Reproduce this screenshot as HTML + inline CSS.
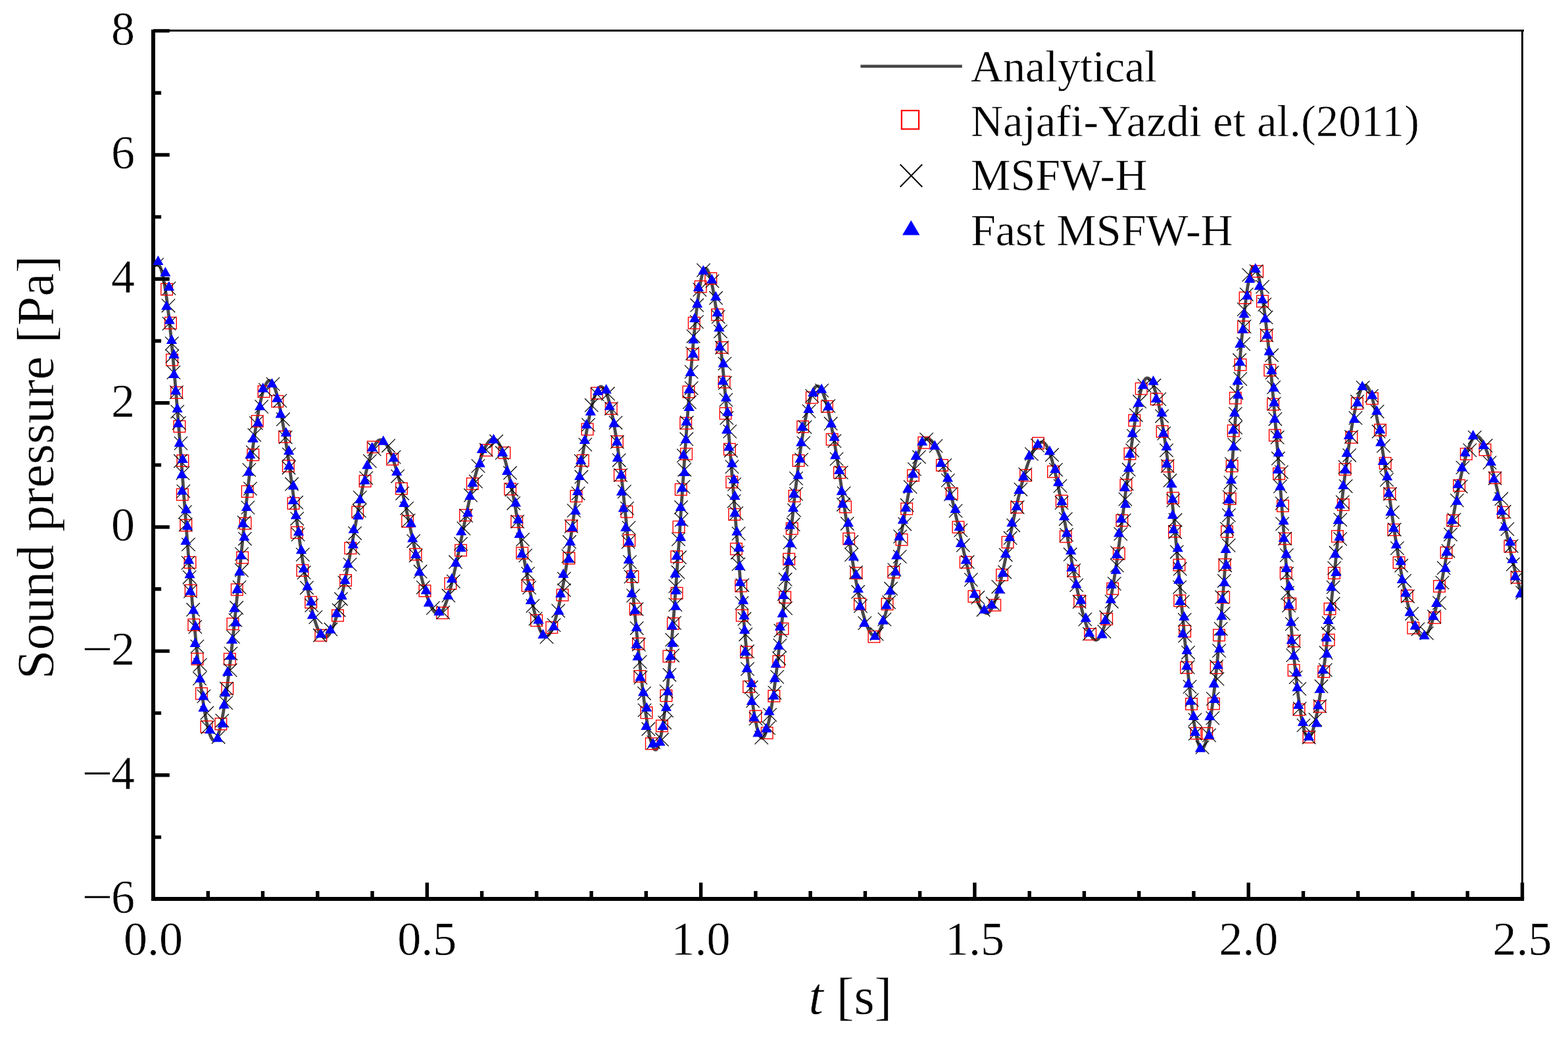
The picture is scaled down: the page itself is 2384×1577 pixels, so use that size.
<!DOCTYPE html>
<html lang="en">
<head>
<meta charset="utf-8">
<title>Sound pressure vs t</title>
<style>
html,body{margin:0;padding:0;background:#fff;}
body{width:2384px;height:1577px;overflow:hidden;font-family:"Liberation Serif", "DejaVu Serif", serif;}
svg{display:block;}
</style>
</head>
<body>
<svg width="2384" height="1577" viewBox="0 0 2384 1577" font-family='"Liberation Serif", "DejaVu Serif", serif' text-rendering="geometricPrecision">
<style>text{stroke:#fff;stroke-width:0.5px;stroke-linejoin:round}</style>
<rect width="2384" height="1577" fill="#fff"/>
<defs><clipPath id="pc"><rect x="233.0" y="46.5" width="2080.0" height="1320.5"/></clipPath></defs>
<g clip-path="url(#pc)">
<path d="M233.0 403.7 L234.7 403.5 L236.3 403.3 L238.0 403.1 L239.7 403.0 L241.3 403.3 L243.0 405.1 L244.7 408.8 L246.3 414.1 L248.0 421.1 L249.7 429.7 L251.3 439.6 L253.0 451.0 L254.6 463.7 L256.3 477.6 L258.0 492.6 L259.6 508.6 L261.3 525.7 L263.0 543.6 L264.6 562.4 L266.3 581.9 L268.0 602.0 L269.6 622.7 L271.3 643.9 L273.0 665.4 L274.6 687.3 L276.3 709.5 L278.0 731.8 L279.6 754.2 L281.3 776.6 L283.0 798.8 L284.6 820.9 L286.3 842.4 L288.0 863.3 L289.6 883.7 L291.3 903.5 L292.9 922.6 L294.6 941.1 L296.3 958.8 L297.9 975.9 L299.6 992.2 L301.3 1007.7 L302.9 1022.4 L304.6 1036.3 L306.3 1049.3 L307.9 1061.4 L309.6 1072.5 L311.3 1082.7 L312.9 1091.9 L314.6 1100.1 L316.3 1107.2 L317.9 1113.3 L319.6 1118.2 L321.3 1122.0 L322.9 1124.6 L324.6 1126.0 L326.3 1126.2 L327.9 1125.0 L329.6 1122.5 L331.2 1118.8 L332.9 1113.8 L334.6 1107.7 L336.2 1100.4 L337.9 1092.2 L339.6 1082.9 L341.2 1072.7 L342.9 1061.7 L344.6 1049.8 L346.2 1037.3 L347.9 1024.0 L349.6 1010.0 L351.2 995.6 L352.9 980.5 L354.6 965.1 L356.2 949.2 L357.9 933.0 L359.6 916.5 L361.2 899.7 L362.9 882.8 L364.6 865.8 L366.2 848.7 L367.9 831.6 L369.5 814.6 L371.2 797.7 L372.9 781.2 L374.5 765.1 L376.2 749.6 L377.9 734.5 L379.5 720.0 L381.2 706.1 L382.9 692.8 L384.5 680.0 L386.2 668.0 L387.9 656.5 L389.5 645.8 L391.2 635.8 L392.9 626.5 L394.5 617.9 L396.2 610.2 L397.9 603.2 L399.5 597.0 L401.2 591.7 L402.9 587.3 L404.5 583.8 L406.2 581.1 L407.8 579.4 L409.5 578.7 L411.2 579.0 L412.8 580.3 L414.5 582.6 L416.2 585.9 L417.8 590.1 L419.5 595.1 L421.2 601.0 L422.8 607.6 L424.5 615.0 L426.2 623.0 L427.8 631.6 L429.5 640.8 L431.2 650.5 L432.8 660.7 L434.5 671.4 L436.2 682.4 L437.8 693.7 L439.5 705.4 L441.1 717.2 L442.8 729.3 L444.5 741.5 L446.1 753.8 L447.8 766.1 L449.5 778.4 L451.1 790.7 L452.8 802.9 L454.5 814.8 L456.1 826.4 L457.8 837.6 L459.5 848.5 L461.1 859.0 L462.8 869.1 L464.5 878.8 L466.1 888.1 L467.8 897.0 L469.5 905.4 L471.1 913.4 L472.8 920.9 L474.5 927.9 L476.1 934.4 L477.8 940.4 L479.4 945.9 L481.1 950.8 L482.8 955.2 L484.4 959.0 L486.1 962.3 L487.8 965.0 L489.4 967.0 L491.1 968.4 L492.8 969.3 L494.4 969.4 L496.1 968.9 L497.8 967.8 L499.4 966.1 L501.1 963.8 L502.8 961.0 L504.4 957.6 L506.1 953.7 L507.8 949.3 L509.4 944.5 L511.1 939.2 L512.8 933.5 L514.4 927.3 L516.1 920.9 L517.7 914.0 L519.4 906.9 L521.1 899.4 L522.7 891.7 L524.4 883.7 L526.1 875.4 L527.7 867.0 L529.4 858.4 L531.1 849.6 L532.7 840.6 L534.4 831.5 L536.1 822.4 L537.7 813.2 L539.4 803.9 L541.1 794.6 L542.7 785.4 L544.4 776.4 L546.1 767.7 L547.7 759.1 L549.4 750.7 L551.1 742.6 L552.7 734.8 L554.4 727.3 L556.0 720.2 L557.7 713.4 L559.4 707.0 L561.0 701.0 L562.7 695.4 L564.4 690.3 L566.0 685.7 L567.7 681.6 L569.4 678.0 L571.0 675.0 L572.7 672.5 L574.4 670.7 L576.0 669.5 L577.7 669.0 L579.4 669.0 L581.0 669.6 L582.7 670.7 L584.4 672.2 L586.0 674.1 L587.7 676.5 L589.4 679.3 L591.0 682.5 L592.7 686.0 L594.3 689.9 L596.0 694.2 L597.7 698.8 L599.3 703.7 L601.0 708.9 L602.7 714.4 L604.3 720.2 L606.0 726.3 L607.7 732.5 L609.3 739.1 L611.0 745.8 L612.7 752.7 L614.3 759.8 L616.0 767.1 L617.7 774.5 L619.3 782.1 L621.0 789.7 L622.7 797.5 L624.3 805.4 L626.0 813.2 L627.7 821.0 L629.3 828.7 L631.0 836.4 L632.6 843.8 L634.3 851.2 L636.0 858.4 L637.6 865.4 L639.3 872.1 L641.0 878.7 L642.6 885.0 L644.3 891.0 L646.0 896.7 L647.6 902.1 L649.3 907.1 L651.0 911.8 L652.6 916.1 L654.3 920.0 L656.0 923.4 L657.6 926.4 L659.3 928.9 L661.0 931.0 L662.6 932.4 L664.3 933.4 L666.0 933.8 L667.6 933.5 L669.3 932.5 L670.9 930.9 L672.6 928.6 L674.3 925.6 L675.9 922.1 L677.6 918.0 L679.3 913.5 L680.9 908.4 L682.6 902.9 L684.3 896.9 L685.9 890.6 L687.6 883.9 L689.3 876.9 L690.9 869.6 L692.6 862.1 L694.3 854.4 L695.9 846.4 L697.6 838.4 L699.3 830.2 L700.9 821.9 L702.6 813.6 L704.3 805.2 L705.9 796.9 L707.6 788.7 L709.2 780.7 L710.9 772.9 L712.6 765.2 L714.2 757.7 L715.9 750.5 L717.6 743.4 L719.2 736.6 L720.9 730.0 L722.6 723.7 L724.2 717.7 L725.9 711.9 L727.6 706.4 L729.2 701.2 L730.9 696.4 L732.6 691.8 L734.2 687.7 L735.9 683.8 L737.6 680.3 L739.2 677.2 L740.9 674.5 L742.6 672.2 L744.2 670.3 L745.9 668.9 L747.5 667.8 L749.2 667.3 L750.9 667.2 L752.5 667.6 L754.2 668.8 L755.9 670.5 L757.5 672.9 L759.2 675.8 L760.9 679.3 L762.5 683.3 L764.2 687.9 L765.9 692.9 L767.5 698.4 L769.2 704.4 L770.9 710.8 L772.5 717.7 L774.2 724.9 L775.9 732.5 L777.5 740.5 L779.2 748.8 L780.9 757.4 L782.5 766.3 L784.2 775.5 L785.8 785.0 L787.5 794.7 L789.2 804.6 L790.8 814.5 L792.5 824.5 L794.2 834.4 L795.8 844.2 L797.5 854.0 L799.2 863.5 L800.8 872.9 L802.5 882.1 L804.2 891.0 L805.8 899.6 L807.5 907.8 L809.2 915.7 L810.8 923.2 L812.5 930.3 L814.2 936.8 L815.8 942.9 L817.5 948.3 L819.2 953.2 L820.8 957.5 L822.5 961.1 L824.1 964.0 L825.8 966.2 L827.5 967.6 L829.1 968.2 L830.8 968.0 L832.5 967.1 L834.1 965.5 L835.8 963.2 L837.5 960.3 L839.1 956.7 L840.8 952.6 L842.5 947.9 L844.1 942.6 L845.8 936.7 L847.5 930.4 L849.1 923.5 L850.8 916.1 L852.5 908.2 L854.1 899.9 L855.8 891.2 L857.5 882.1 L859.1 872.5 L860.8 862.6 L862.4 852.3 L864.1 841.7 L865.8 830.8 L867.4 819.6 L869.1 808.1 L870.8 796.4 L872.4 784.5 L874.1 772.7 L875.8 760.9 L877.4 749.1 L879.1 737.5 L880.8 726.0 L882.4 714.7 L884.1 703.6 L885.8 692.8 L887.4 682.3 L889.1 672.1 L890.8 662.3 L892.4 653.0 L894.1 644.1 L895.7 635.7 L897.4 627.8 L899.1 620.6 L900.7 613.9 L902.4 608.0 L904.1 602.7 L905.7 598.1 L907.4 594.4 L909.1 591.4 L910.7 589.4 L912.4 588.2 L914.1 587.9 L915.7 588.6 L917.4 590.0 L919.1 592.3 L920.7 595.4 L922.4 599.3 L924.1 603.9 L925.7 609.4 L927.4 615.6 L929.1 622.7 L930.7 630.4 L932.4 638.9 L934.0 648.2 L935.7 658.1 L937.4 668.8 L939.0 680.2 L940.7 692.3 L942.4 705.1 L944.0 718.6 L945.7 732.8 L947.4 747.6 L949.0 763.0 L950.7 779.2 L952.4 795.9 L954.0 813.2 L955.7 830.8 L957.4 848.6 L959.0 866.5 L960.7 884.5 L962.4 902.4 L964.0 920.2 L965.7 937.9 L967.4 955.3 L969.0 972.4 L970.7 989.0 L972.3 1005.2 L974.0 1020.9 L975.7 1035.9 L977.3 1050.2 L979.0 1063.8 L980.7 1076.5 L982.3 1088.2 L984.0 1099.0 L985.7 1108.7 L987.3 1117.2 L989.0 1124.6 L990.7 1130.6 L992.3 1135.2 L994.0 1138.4 L995.7 1140.1 L997.3 1140.2 L999.0 1138.5 L1000.7 1135.1 L1002.3 1130.0 L1004.0 1123.3 L1005.7 1115.1 L1007.3 1105.4 L1009.0 1094.3 L1010.6 1081.9 L1012.3 1068.1 L1014.0 1053.2 L1015.6 1037.0 L1017.3 1019.8 L1019.0 1001.5 L1020.6 982.2 L1022.3 962.0 L1024.0 940.9 L1025.6 919.1 L1027.3 896.4 L1029.0 873.1 L1030.6 849.2 L1032.3 824.8 L1034.0 799.8 L1035.6 774.6 L1037.3 749.6 L1039.0 724.6 L1040.6 700.0 L1042.3 675.6 L1044.0 651.8 L1045.6 628.5 L1047.3 605.8 L1048.9 583.9 L1050.6 562.8 L1052.3 542.6 L1053.9 523.5 L1055.6 505.5 L1057.3 488.7 L1058.9 473.2 L1060.6 459.2 L1062.3 446.6 L1063.9 435.7 L1065.6 426.4 L1067.3 418.9 L1068.9 413.4 L1070.6 409.8 L1072.3 408.3 L1073.9 408.7 L1075.6 410.5 L1077.3 413.8 L1078.9 418.3 L1080.6 424.2 L1082.3 431.3 L1083.9 439.5 L1085.6 448.9 L1087.2 459.4 L1088.9 470.8 L1090.6 483.3 L1092.2 496.7 L1093.9 511.0 L1095.6 526.1 L1097.2 542.0 L1098.9 558.7 L1100.6 576.0 L1102.2 594.0 L1103.9 612.5 L1105.6 631.6 L1107.2 651.2 L1108.9 671.2 L1110.6 691.6 L1112.2 712.4 L1113.9 733.4 L1115.6 754.7 L1117.2 776.2 L1118.9 797.8 L1120.6 819.4 L1122.2 840.8 L1123.9 861.7 L1125.5 882.3 L1127.2 902.5 L1128.9 922.1 L1130.5 941.2 L1132.2 959.7 L1133.9 977.4 L1135.5 994.5 L1137.2 1010.7 L1138.9 1026.1 L1140.5 1040.5 L1142.2 1054.0 L1143.9 1066.4 L1145.5 1077.8 L1147.2 1088.0 L1148.9 1097.0 L1150.5 1104.8 L1152.2 1111.2 L1153.9 1116.2 L1155.5 1119.8 L1157.2 1121.9 L1158.9 1122.5 L1160.5 1121.6 L1162.2 1119.3 L1163.8 1115.7 L1165.5 1110.9 L1167.2 1104.8 L1168.8 1097.7 L1170.5 1089.5 L1172.2 1080.2 L1173.8 1070.1 L1175.5 1059.1 L1177.2 1047.2 L1178.8 1034.6 L1180.5 1021.3 L1182.2 1007.4 L1183.8 992.9 L1185.5 977.9 L1187.2 962.5 L1188.8 946.6 L1190.5 930.5 L1192.2 914.1 L1193.8 897.4 L1195.5 880.7 L1197.2 863.8 L1198.8 847.0 L1200.5 830.2 L1202.1 813.5 L1203.8 797.0 L1205.5 780.9 L1207.1 765.3 L1208.8 750.2 L1210.5 735.7 L1212.1 721.8 L1213.8 708.4 L1215.5 695.7 L1217.1 683.5 L1218.8 672.0 L1220.5 661.2 L1222.1 651.0 L1223.8 641.5 L1225.5 632.7 L1227.1 624.6 L1228.8 617.3 L1230.5 610.7 L1232.1 604.8 L1233.8 599.8 L1235.5 595.6 L1237.1 592.2 L1238.8 589.6 L1240.4 587.9 L1242.1 587.1 L1243.8 587.1 L1245.4 588.0 L1247.1 589.8 L1248.8 592.3 L1250.4 595.7 L1252.1 599.8 L1253.8 604.6 L1255.4 610.0 L1257.1 616.1 L1258.8 622.8 L1260.4 630.0 L1262.1 637.8 L1263.8 646.0 L1265.4 654.7 L1267.1 663.9 L1268.8 673.4 L1270.4 683.3 L1272.1 693.5 L1273.8 703.9 L1275.4 714.6 L1277.1 725.6 L1278.7 736.7 L1280.4 747.9 L1282.1 759.3 L1283.7 770.7 L1285.4 782.2 L1287.1 793.6 L1288.7 805.1 L1290.4 816.3 L1292.1 827.2 L1293.7 837.9 L1295.4 848.4 L1297.1 858.5 L1298.7 868.2 L1300.4 877.6 L1302.1 886.7 L1303.7 895.4 L1305.4 903.7 L1307.1 911.5 L1308.7 918.9 L1310.4 925.9 L1312.0 932.4 L1313.7 938.3 L1315.4 943.8 L1317.0 948.7 L1318.7 953.1 L1320.4 956.9 L1322.0 960.2 L1323.7 962.8 L1325.4 964.8 L1327.0 966.1 L1328.7 966.8 L1330.4 966.8 L1332.0 966.1 L1333.7 964.6 L1335.4 962.5 L1337.0 959.7 L1338.7 956.2 L1340.4 952.2 L1342.0 947.6 L1343.7 942.5 L1345.4 936.9 L1347.0 930.8 L1348.7 924.3 L1350.3 917.3 L1352.0 909.9 L1353.7 902.2 L1355.3 894.2 L1357.0 885.8 L1358.7 877.2 L1360.3 868.3 L1362.0 859.3 L1363.7 850.0 L1365.3 840.6 L1367.0 831.1 L1368.7 821.5 L1370.3 811.8 L1372.0 802.0 L1373.7 792.4 L1375.3 782.9 L1377.0 773.6 L1378.7 764.5 L1380.3 755.7 L1382.0 747.1 L1383.7 738.9 L1385.3 731.0 L1387.0 723.4 L1388.6 716.1 L1390.3 709.3 L1392.0 702.9 L1393.6 697.0 L1395.3 691.5 L1397.0 686.5 L1398.6 682.0 L1400.3 678.0 L1402.0 674.7 L1403.6 671.9 L1405.3 669.7 L1407.0 668.2 L1408.6 667.3 L1410.3 667.1 L1412.0 667.5 L1413.6 668.3 L1415.3 669.5 L1417.0 671.1 L1418.6 673.2 L1420.3 675.6 L1422.0 678.4 L1423.6 681.6 L1425.3 685.1 L1426.9 688.9 L1428.6 693.1 L1430.3 697.6 L1431.9 702.4 L1433.6 707.4 L1435.3 712.8 L1436.9 718.4 L1438.6 724.2 L1440.3 730.3 L1441.9 736.6 L1443.6 743.1 L1445.3 749.7 L1446.9 756.6 L1448.6 763.6 L1450.3 770.8 L1451.9 778.1 L1453.6 785.5 L1455.3 793.1 L1456.9 800.7 L1458.6 808.4 L1460.3 816.0 L1461.9 823.6 L1463.6 831.1 L1465.2 838.5 L1466.9 845.7 L1468.6 852.9 L1470.2 859.8 L1471.9 866.6 L1473.6 873.2 L1475.2 879.5 L1476.9 885.6 L1478.6 891.4 L1480.2 896.9 L1481.9 902.1 L1483.6 907.0 L1485.2 911.5 L1486.9 915.7 L1488.6 919.4 L1490.2 922.7 L1491.9 925.6 L1493.6 928.0 L1495.2 929.9 L1496.9 931.3 L1498.6 932.2 L1500.2 932.6 L1501.9 932.2 L1503.5 931.2 L1505.2 929.4 L1506.9 927.0 L1508.5 923.9 L1510.2 920.2 L1511.9 916.0 L1513.5 911.2 L1515.2 905.9 L1516.9 900.2 L1518.5 894.1 L1520.2 887.6 L1521.9 880.8 L1523.5 873.6 L1525.2 866.2 L1526.9 858.6 L1528.5 850.8 L1530.2 842.8 L1531.9 834.7 L1533.5 826.5 L1535.2 818.3 L1536.9 810.1 L1538.5 801.9 L1540.2 793.8 L1541.8 785.9 L1543.5 778.2 L1545.2 770.6 L1546.8 763.3 L1548.5 756.2 L1550.2 749.3 L1551.8 742.6 L1553.5 736.2 L1555.2 730.0 L1556.8 724.1 L1558.5 718.5 L1560.2 713.1 L1561.8 708.0 L1563.5 703.2 L1565.2 698.8 L1566.8 694.6 L1568.5 690.8 L1570.2 687.2 L1571.8 684.1 L1573.5 681.3 L1575.2 678.8 L1576.8 676.7 L1578.5 675.1 L1580.1 673.7 L1581.8 672.8 L1583.5 672.3 L1585.1 672.3 L1586.8 672.9 L1588.5 674.3 L1590.1 676.4 L1591.8 679.1 L1593.5 682.6 L1595.1 686.6 L1596.8 691.3 L1598.5 696.5 L1600.1 702.2 L1601.8 708.5 L1603.5 715.2 L1605.1 722.3 L1606.8 729.8 L1608.5 737.7 L1610.1 746.0 L1611.8 754.5 L1613.5 763.3 L1615.1 772.4 L1616.8 781.6 L1618.4 791.0 L1620.1 800.6 L1621.8 810.2 L1623.4 819.7 L1625.1 829.2 L1626.8 838.6 L1628.4 847.8 L1630.1 856.9 L1631.8 865.8 L1633.4 874.5 L1635.1 883.0 L1636.8 891.2 L1638.4 899.2 L1640.1 906.9 L1641.8 914.3 L1643.4 921.3 L1645.1 928.1 L1646.8 934.4 L1648.4 940.3 L1650.1 945.9 L1651.8 950.9 L1653.4 955.6 L1655.1 959.7 L1656.7 963.3 L1658.4 966.5 L1660.1 969.0 L1661.7 971.0 L1663.4 972.4 L1665.1 973.1 L1666.7 973.3 L1668.4 972.7 L1670.1 971.3 L1671.7 969.3 L1673.4 966.5 L1675.1 963.0 L1676.7 958.9 L1678.4 954.1 L1680.1 948.7 L1681.7 942.6 L1683.4 935.9 L1685.1 928.6 L1686.7 920.8 L1688.4 912.3 L1690.0 903.4 L1691.7 893.8 L1693.4 883.8 L1695.0 873.3 L1696.7 862.3 L1698.4 850.8 L1700.0 838.8 L1701.7 826.4 L1703.4 813.6 L1705.0 800.4 L1706.7 786.9 L1708.4 773.3 L1710.0 759.6 L1711.7 746.0 L1713.4 732.4 L1715.0 719.0 L1716.7 705.8 L1718.4 692.8 L1720.0 680.2 L1721.7 668.0 L1723.4 656.2 L1725.0 645.0 L1726.7 634.4 L1728.3 624.4 L1730.0 615.2 L1731.7 606.7 L1733.3 599.1 L1735.0 592.4 L1736.7 586.6 L1738.3 581.9 L1740.0 578.4 L1741.7 576.0 L1743.3 574.8 L1745.0 574.8 L1746.7 575.6 L1748.3 577.1 L1750.0 579.4 L1751.7 582.3 L1753.3 586.0 L1755.0 590.4 L1756.7 595.5 L1758.3 601.3 L1760.0 607.8 L1761.7 615.1 L1763.3 623.0 L1765.0 631.7 L1766.6 641.0 L1768.3 651.1 L1770.0 661.9 L1771.6 673.4 L1773.3 685.6 L1775.0 698.4 L1776.6 712.0 L1778.3 726.3 L1780.0 741.3 L1781.6 757.0 L1783.3 773.4 L1785.0 790.5 L1786.6 808.2 L1788.3 826.5 L1790.0 845.0 L1791.6 863.7 L1793.3 882.6 L1795.0 901.5 L1796.6 920.3 L1798.3 939.0 L1800.0 957.4 L1801.6 975.5 L1803.3 993.1 L1804.9 1010.2 L1806.6 1026.6 L1808.3 1042.3 L1809.9 1057.1 L1811.6 1071.1 L1813.3 1084.0 L1814.9 1095.8 L1816.6 1106.4 L1818.3 1115.7 L1819.9 1123.5 L1821.6 1129.9 L1823.3 1134.7 L1824.9 1137.8 L1826.6 1139.1 L1828.3 1138.6 L1829.9 1136.7 L1831.6 1133.4 L1833.3 1128.7 L1834.9 1122.6 L1836.6 1115.2 L1838.3 1106.6 L1839.9 1096.7 L1841.6 1085.7 L1843.2 1073.5 L1844.9 1060.2 L1846.6 1045.9 L1848.2 1030.5 L1849.9 1014.2 L1851.6 996.9 L1853.2 978.7 L1854.9 959.7 L1856.6 939.9 L1858.2 919.2 L1859.9 897.9 L1861.6 875.8 L1863.2 853.1 L1864.9 829.8 L1866.6 805.9 L1868.2 781.6 L1869.9 757.2 L1871.6 732.8 L1873.2 708.6 L1874.9 684.6 L1876.6 660.9 L1878.2 637.6 L1879.9 614.9 L1881.5 592.7 L1883.2 571.4 L1884.9 550.8 L1886.5 531.2 L1888.2 512.6 L1889.9 495.2 L1891.5 479.0 L1893.2 464.2 L1894.9 450.8 L1896.5 438.9 L1898.2 428.7 L1899.9 420.3 L1901.5 413.7 L1903.2 409.0 L1904.9 406.4 L1906.5 405.9 L1908.2 407.2 L1909.9 409.9 L1911.5 414.1 L1913.2 419.6 L1914.9 426.5 L1916.5 434.7 L1918.2 444.0 L1919.8 454.6 L1921.5 466.3 L1923.2 479.0 L1924.8 492.8 L1926.5 507.5 L1928.2 523.0 L1929.8 539.5 L1931.5 556.7 L1933.2 574.7 L1934.8 593.3 L1936.5 612.6 L1938.2 632.5 L1939.8 652.9 L1941.5 673.7 L1943.2 695.0 L1944.8 716.6 L1946.5 738.5 L1948.2 760.7 L1949.8 783.1 L1951.5 805.6 L1953.2 827.9 L1954.8 850.0 L1956.5 871.6 L1958.1 892.8 L1959.8 913.5 L1961.5 933.6 L1963.1 953.1 L1964.8 971.8 L1966.5 989.8 L1968.1 1006.9 L1969.8 1023.1 L1971.5 1038.3 L1973.1 1052.4 L1974.8 1065.4 L1976.5 1077.3 L1978.1 1087.9 L1979.8 1097.2 L1981.5 1105.1 L1983.1 1111.5 L1984.8 1116.5 L1986.5 1119.8 L1988.1 1121.5 L1989.8 1121.6 L1991.5 1120.4 L1993.1 1117.9 L1994.8 1114.3 L1996.4 1109.7 L1998.1 1103.9 L1999.8 1097.2 L2001.4 1089.5 L2003.1 1081.0 L2004.8 1071.6 L2006.4 1061.4 L2008.1 1050.4 L2009.8 1038.7 L2011.4 1026.4 L2013.1 1013.5 L2014.8 1000.1 L2016.4 986.1 L2018.1 971.7 L2019.8 956.9 L2021.4 941.8 L2023.1 926.3 L2024.8 910.6 L2026.4 894.7 L2028.1 878.7 L2029.8 862.5 L2031.4 846.3 L2033.1 830.1 L2034.7 813.9 L2036.4 797.9 L2038.1 782.1 L2039.7 766.8 L2041.4 752.0 L2043.1 737.6 L2044.7 723.8 L2046.4 710.4 L2048.1 697.7 L2049.7 685.4 L2051.4 673.8 L2053.1 662.8 L2054.7 652.5 L2056.4 642.7 L2058.1 633.7 L2059.7 625.4 L2061.4 617.8 L2063.1 611.0 L2064.7 604.9 L2066.4 599.7 L2068.1 595.2 L2069.7 591.6 L2071.4 588.9 L2073.0 587.1 L2074.7 586.1 L2076.4 586.1 L2078.0 587.1 L2079.7 589.1 L2081.4 591.9 L2083.0 595.6 L2084.7 600.2 L2086.4 605.5 L2088.0 611.5 L2089.7 618.2 L2091.4 625.6 L2093.0 633.5 L2094.7 642.0 L2096.4 651.0 L2098.0 660.5 L2099.7 670.3 L2101.4 680.6 L2103.0 691.2 L2104.7 702.0 L2106.3 713.1 L2108.0 724.4 L2109.7 735.8 L2111.3 747.4 L2113.0 759.0 L2114.7 770.6 L2116.3 782.1 L2118.0 793.7 L2119.7 805.0 L2121.3 816.1 L2123.0 826.9 L2124.7 837.4 L2126.3 847.6 L2128.0 857.4 L2129.7 866.8 L2131.3 875.9 L2133.0 884.7 L2134.7 893.0 L2136.3 901.0 L2138.0 908.6 L2139.7 915.7 L2141.3 922.5 L2143.0 928.8 L2144.6 934.7 L2146.3 940.2 L2148.0 945.1 L2149.6 949.7 L2151.3 953.7 L2153.0 957.3 L2154.6 960.4 L2156.3 963.0 L2158.0 965.1 L2159.6 966.6 L2161.3 967.7 L2163.0 968.2 L2164.6 968.1 L2166.3 967.3 L2168.0 965.8 L2169.6 963.7 L2171.3 960.9 L2173.0 957.5 L2174.6 953.5 L2176.3 949.0 L2178.0 943.9 L2179.6 938.4 L2181.3 932.4 L2182.9 925.9 L2184.6 919.0 L2186.3 911.8 L2187.9 904.2 L2189.6 896.2 L2191.3 888.0 L2192.9 879.4 L2194.6 870.6 L2196.3 861.6 L2197.9 852.4 L2199.6 843.1 L2201.3 833.6 L2202.9 823.9 L2204.6 814.2 L2206.3 804.5 L2207.9 794.7 L2209.6 785.1 L2211.3 775.7 L2212.9 766.5 L2214.6 757.5 L2216.3 748.7 L2217.9 740.2 L2219.6 732.1 L2221.2 724.2 L2222.9 716.7 L2224.6 709.6 L2226.2 702.9 L2227.9 696.6 L2229.6 690.8 L2231.2 685.5 L2232.9 680.7 L2234.6 676.4 L2236.2 672.7 L2237.9 669.5 L2239.6 667.0 L2241.2 665.1 L2242.9 663.9 L2244.6 663.4 L2246.2 663.5 L2247.9 664.3 L2249.6 665.5 L2251.2 667.3 L2252.9 669.7 L2254.6 672.5 L2256.2 675.8 L2257.9 679.5 L2259.5 683.6 L2261.2 688.2 L2262.9 693.1 L2264.5 698.4 L2266.2 704.1 L2267.9 710.0 L2269.5 716.2 L2271.2 722.7 L2272.9 729.5 L2274.5 736.5 L2276.2 743.7 L2277.9 751.0 L2279.5 758.6 L2281.2 766.2 L2282.9 774.0 L2284.5 781.9 L2286.2 789.9 L2287.9 797.9 L2289.5 805.9 L2291.2 813.8 L2292.9 821.6 L2294.5 829.3 L2296.2 836.8 L2297.8 844.2 L2299.5 851.4 L2301.2 858.4 L2302.8 865.2 L2304.5 871.8 L2306.2 878.1 L2307.8 884.1 L2309.5 889.9 L2311.2 895.4 L2312.8 900.6 L2314.5 905.5" fill="none" stroke="#484848" stroke-width="4.8" stroke-linejoin="round"/>
</g>
<g stroke="#000" fill="none">
<line x1="233.0" y1="46.5" x2="2317.0" y2="46.5" stroke-width="3.0"/>
<line x1="2314.5" y1="45.0" x2="2314.5" y2="1367.0" stroke-width="3.0"/>
<line x1="233.0" y1="45.0" x2="233.0" y2="1370.0" stroke-width="6.0"/>
<line x1="230.0" y1="1367.0" x2="2317.2" y2="1367.0" stroke-width="6.0"/>
<path d="M316.3 1367.0v-12.1M399.5 1367.0v-12.1M482.8 1367.0v-12.1M566.0 1367.0v-12.1M649.3 1367.0v-24.8M732.6 1367.0v-12.1M815.8 1367.0v-12.1M899.1 1367.0v-12.1M982.3 1367.0v-12.1M1065.6 1367.0v-24.8M1148.9 1367.0v-12.1M1232.1 1367.0v-12.1M1315.4 1367.0v-12.1M1398.6 1367.0v-12.1M1481.9 1367.0v-24.8M1565.2 1367.0v-12.1M1648.4 1367.0v-12.1M1731.7 1367.0v-12.1M1814.9 1367.0v-12.1M1898.2 1367.0v-24.8M1981.5 1367.0v-12.1M2064.7 1367.0v-12.1M2148.0 1367.0v-12.1M2231.2 1367.0v-12.1M2314.5 1367.0v-24.8M233.0 1273.1h12.1M233.0 1178.8h24.8M233.0 1084.4h12.1M233.0 990.1h24.8M233.0 895.8h12.1M233.0 801.5h24.8M233.0 707.1h12.1M233.0 612.8h24.8M233.0 518.5h12.1M233.0 424.2h24.8M233.0 329.9h12.1M233.0 235.5h24.8M233.0 141.2h12.1M233.0 46.9h24.8" stroke-width="5.4"/>
</g>
<g clip-path="url(#pc)">
<g fill="none" stroke="#ff0000" stroke-width="1.4">
<rect x="244.8" y="431.2" width="17.6" height="17.6"/>
<rect x="250.7" y="482.4" width="17.6" height="17.6"/>
<rect x="252.8" y="538.5" width="17.6" height="17.6"/>
<rect x="259.8" y="588.2" width="17.6" height="17.6"/>
<rect x="264.1" y="639.7" width="17.6" height="17.6"/>
<rect x="269.1" y="691.8" width="17.6" height="17.6"/>
<rect x="268.5" y="743.3" width="17.6" height="17.6"/>
<rect x="274.0" y="790.1" width="17.6" height="17.6"/>
<rect x="280.2" y="846.5" width="17.6" height="17.6"/>
<rect x="281.4" y="889.2" width="17.6" height="17.6"/>
<rect x="285.9" y="941.4" width="17.6" height="17.6"/>
<rect x="291.2" y="993.4" width="17.6" height="17.6"/>
<rect x="297.6" y="1045.9" width="17.6" height="17.6"/>
<rect x="305.1" y="1096.4" width="17.6" height="17.6"/>
<rect x="327.0" y="1092.2" width="17.6" height="17.6"/>
<rect x="337.0" y="1038.1" width="17.6" height="17.6"/>
<rect x="340.5" y="993.5" width="17.6" height="17.6"/>
<rect x="345.1" y="940.0" width="17.6" height="17.6"/>
<rect x="351.5" y="887.9" width="17.6" height="17.6"/>
<rect x="359.9" y="839.1" width="17.6" height="17.6"/>
<rect x="364.3" y="787.2" width="17.6" height="17.6"/>
<rect x="367.4" y="738.6" width="17.6" height="17.6"/>
<rect x="376.0" y="682.9" width="17.6" height="17.6"/>
<rect x="382.5" y="631.7" width="17.6" height="17.6"/>
<rect x="392.3" y="586.7" width="17.6" height="17.6"/>
<rect x="413.0" y="601.5" width="17.6" height="17.6"/>
<rect x="423.9" y="655.4" width="17.6" height="17.6"/>
<rect x="429.6" y="699.9" width="17.6" height="17.6"/>
<rect x="437.3" y="756.7" width="17.6" height="17.6"/>
<rect x="442.5" y="801.0" width="17.6" height="17.6"/>
<rect x="451.1" y="858.7" width="17.6" height="17.6"/>
<rect x="463.9" y="907.1" width="17.6" height="17.6"/>
<rect x="479.1" y="957.4" width="17.6" height="17.6"/>
<rect x="504.7" y="927.3" width="17.6" height="17.6"/>
<rect x="516.8" y="873.7" width="17.6" height="17.6"/>
<rect x="524.0" y="824.8" width="17.6" height="17.6"/>
<rect x="534.9" y="770.0" width="17.6" height="17.6"/>
<rect x="546.3" y="722.9" width="17.6" height="17.6"/>
<rect x="558.5" y="671.0" width="17.6" height="17.6"/>
<rect x="587.8" y="689.6" width="17.6" height="17.6"/>
<rect x="601.7" y="734.2" width="17.6" height="17.6"/>
<rect x="610.8" y="784.1" width="17.6" height="17.6"/>
<rect x="623.3" y="834.2" width="17.6" height="17.6"/>
<rect x="637.2" y="889.8" width="17.6" height="17.6"/>
<rect x="663.6" y="923.3" width="17.6" height="17.6"/>
<rect x="676.1" y="878.6" width="17.6" height="17.6"/>
<rect x="691.8" y="828.1" width="17.6" height="17.6"/>
<rect x="698.8" y="774.7" width="17.6" height="17.6"/>
<rect x="709.5" y="726.9" width="17.6" height="17.6"/>
<rect x="730.4" y="675.9" width="17.6" height="17.6"/>
<rect x="758.1" y="679.8" width="17.6" height="17.6"/>
<rect x="766.9" y="735.0" width="17.6" height="17.6"/>
<rect x="777.0" y="784.6" width="17.6" height="17.6"/>
<rect x="785.1" y="832.3" width="17.6" height="17.6"/>
<rect x="793.4" y="881.8" width="17.6" height="17.6"/>
<rect x="807.0" y="934.8" width="17.6" height="17.6"/>
<rect x="830.1" y="945.5" width="17.6" height="17.6"/>
<rect x="846.4" y="896.1" width="17.6" height="17.6"/>
<rect x="856.3" y="840.1" width="17.6" height="17.6"/>
<rect x="860.0" y="790.9" width="17.6" height="17.6"/>
<rect x="867.3" y="745.7" width="17.6" height="17.6"/>
<rect x="877.5" y="691.5" width="17.6" height="17.6"/>
<rect x="884.3" y="644.0" width="17.6" height="17.6"/>
<rect x="898.6" y="589.1" width="17.6" height="17.6"/>
<rect x="920.5" y="612.6" width="17.6" height="17.6"/>
<rect x="929.7" y="662.8" width="17.6" height="17.6"/>
<rect x="933.6" y="713.8" width="17.6" height="17.6"/>
<rect x="944.1" y="769.4" width="17.6" height="17.6"/>
<rect x="948.0" y="813.2" width="17.6" height="17.6"/>
<rect x="953.2" y="868.1" width="17.6" height="17.6"/>
<rect x="957.3" y="917.4" width="17.6" height="17.6"/>
<rect x="961.7" y="970.2" width="17.6" height="17.6"/>
<rect x="964.0" y="1019.7" width="17.6" height="17.6"/>
<rect x="974.2" y="1075.0" width="17.6" height="17.6"/>
<rect x="981.5" y="1122.1" width="17.6" height="17.6"/>
<rect x="997.6" y="1095.1" width="17.6" height="17.6"/>
<rect x="1004.1" y="1049.1" width="17.6" height="17.6"/>
<rect x="1008.1" y="989.3" width="17.6" height="17.6"/>
<rect x="1014.6" y="939.6" width="17.6" height="17.6"/>
<rect x="1020.3" y="893.3" width="17.6" height="17.6"/>
<rect x="1020.0" y="837.8" width="17.6" height="17.6"/>
<rect x="1023.2" y="792.4" width="17.6" height="17.6"/>
<rect x="1026.5" y="735.6" width="17.6" height="17.6"/>
<rect x="1034.8" y="681.6" width="17.6" height="17.6"/>
<rect x="1033.9" y="634.9" width="17.6" height="17.6"/>
<rect x="1038.2" y="587.1" width="17.6" height="17.6"/>
<rect x="1044.8" y="530.1" width="17.6" height="17.6"/>
<rect x="1046.5" y="482.4" width="17.6" height="17.6"/>
<rect x="1056.4" y="427.1" width="17.6" height="17.6"/>
<rect x="1072.0" y="414.7" width="17.6" height="17.6"/>
<rect x="1081.8" y="469.8" width="17.6" height="17.6"/>
<rect x="1089.2" y="519.7" width="17.6" height="17.6"/>
<rect x="1092.3" y="572.2" width="17.6" height="17.6"/>
<rect x="1094.3" y="619.9" width="17.6" height="17.6"/>
<rect x="1100.5" y="674.4" width="17.6" height="17.6"/>
<rect x="1103.9" y="724.3" width="17.6" height="17.6"/>
<rect x="1107.8" y="773.5" width="17.6" height="17.6"/>
<rect x="1110.6" y="826.0" width="17.6" height="17.6"/>
<rect x="1117.8" y="882.3" width="17.6" height="17.6"/>
<rect x="1119.4" y="927.2" width="17.6" height="17.6"/>
<rect x="1125.8" y="982.9" width="17.6" height="17.6"/>
<rect x="1129.7" y="1035.6" width="17.6" height="17.6"/>
<rect x="1140.1" y="1080.5" width="17.6" height="17.6"/>
<rect x="1157.4" y="1105.9" width="17.6" height="17.6"/>
<rect x="1168.0" y="1049.7" width="17.6" height="17.6"/>
<rect x="1175.1" y="997.0" width="17.6" height="17.6"/>
<rect x="1181.2" y="947.4" width="17.6" height="17.6"/>
<rect x="1184.8" y="899.5" width="17.6" height="17.6"/>
<rect x="1190.8" y="841.5" width="17.6" height="17.6"/>
<rect x="1195.4" y="795.0" width="17.6" height="17.6"/>
<rect x="1199.2" y="745.5" width="17.6" height="17.6"/>
<rect x="1205.2" y="691.6" width="17.6" height="17.6"/>
<rect x="1211.8" y="640.1" width="17.6" height="17.6"/>
<rect x="1225.5" y="595.8" width="17.6" height="17.6"/>
<rect x="1248.6" y="609.4" width="17.6" height="17.6"/>
<rect x="1256.3" y="659.4" width="17.6" height="17.6"/>
<rect x="1267.6" y="709.9" width="17.6" height="17.6"/>
<rect x="1276.7" y="762.1" width="17.6" height="17.6"/>
<rect x="1281.8" y="810.5" width="17.6" height="17.6"/>
<rect x="1293.1" y="862.8" width="17.6" height="17.6"/>
<rect x="1298.6" y="909.8" width="17.6" height="17.6"/>
<rect x="1320.1" y="959.5" width="17.6" height="17.6"/>
<rect x="1340.2" y="909.9" width="17.6" height="17.6"/>
<rect x="1349.9" y="861.4" width="17.6" height="17.6"/>
<rect x="1362.2" y="811.9" width="17.6" height="17.6"/>
<rect x="1369.8" y="765.0" width="17.6" height="17.6"/>
<rect x="1379.6" y="714.3" width="17.6" height="17.6"/>
<rect x="1396.0" y="664.4" width="17.6" height="17.6"/>
<rect x="1423.6" y="698.7" width="17.6" height="17.6"/>
<rect x="1438.5" y="741.8" width="17.6" height="17.6"/>
<rect x="1448.1" y="792.8" width="17.6" height="17.6"/>
<rect x="1459.4" y="846.3" width="17.6" height="17.6"/>
<rect x="1472.1" y="898.1" width="17.6" height="17.6"/>
<rect x="1503.9" y="911.5" width="17.6" height="17.6"/>
<rect x="1514.8" y="865.5" width="17.6" height="17.6"/>
<rect x="1523.3" y="815.7" width="17.6" height="17.6"/>
<rect x="1536.9" y="762.7" width="17.6" height="17.6"/>
<rect x="1550.8" y="714.2" width="17.6" height="17.6"/>
<rect x="1569.7" y="665.2" width="17.6" height="17.6"/>
<rect x="1592.7" y="708.6" width="17.6" height="17.6"/>
<rect x="1605.5" y="753.1" width="17.6" height="17.6"/>
<rect x="1611.5" y="807.2" width="17.6" height="17.6"/>
<rect x="1623.1" y="859.6" width="17.6" height="17.6"/>
<rect x="1632.9" y="905.3" width="17.6" height="17.6"/>
<rect x="1648.9" y="955.7" width="17.6" height="17.6"/>
<rect x="1673.9" y="932.6" width="17.6" height="17.6"/>
<rect x="1682.9" y="886.4" width="17.6" height="17.6"/>
<rect x="1692.6" y="833.3" width="17.6" height="17.6"/>
<rect x="1697.1" y="782.7" width="17.6" height="17.6"/>
<rect x="1703.1" y="728.9" width="17.6" height="17.6"/>
<rect x="1709.2" y="681.3" width="17.6" height="17.6"/>
<rect x="1716.0" y="630.5" width="17.6" height="17.6"/>
<rect x="1726.4" y="582.3" width="17.6" height="17.6"/>
<rect x="1749.4" y="598.1" width="17.6" height="17.6"/>
<rect x="1758.3" y="647.4" width="17.6" height="17.6"/>
<rect x="1766.7" y="700.1" width="17.6" height="17.6"/>
<rect x="1774.6" y="748.6" width="17.6" height="17.6"/>
<rect x="1776.7" y="799.3" width="17.6" height="17.6"/>
<rect x="1784.1" y="850.4" width="17.6" height="17.6"/>
<rect x="1784.9" y="904.8" width="17.6" height="17.6"/>
<rect x="1792.8" y="951.2" width="17.6" height="17.6"/>
<rect x="1794.7" y="1006.5" width="17.6" height="17.6"/>
<rect x="1802.7" y="1061.8" width="17.6" height="17.6"/>
<rect x="1810.3" y="1106.5" width="17.6" height="17.6"/>
<rect x="1826.0" y="1106.5" width="17.6" height="17.6"/>
<rect x="1836.5" y="1061.4" width="17.6" height="17.6"/>
<rect x="1840.4" y="1006.8" width="17.6" height="17.6"/>
<rect x="1844.7" y="957.1" width="17.6" height="17.6"/>
<rect x="1851.8" y="899.6" width="17.6" height="17.6"/>
<rect x="1853.3" y="849.8" width="17.6" height="17.6"/>
<rect x="1856.7" y="799.7" width="17.6" height="17.6"/>
<rect x="1861.5" y="749.7" width="17.6" height="17.6"/>
<rect x="1864.4" y="699.9" width="17.6" height="17.6"/>
<rect x="1866.4" y="646.3" width="17.6" height="17.6"/>
<rect x="1869.5" y="596.5" width="17.6" height="17.6"/>
<rect x="1877.2" y="545.9" width="17.6" height="17.6"/>
<rect x="1881.8" y="488.3" width="17.6" height="17.6"/>
<rect x="1884.3" y="444.1" width="17.6" height="17.6"/>
<rect x="1902.9" y="403.9" width="17.6" height="17.6"/>
<rect x="1910.7" y="449.3" width="17.6" height="17.6"/>
<rect x="1916.8" y="501.3" width="17.6" height="17.6"/>
<rect x="1922.0" y="554.3" width="17.6" height="17.6"/>
<rect x="1926.8" y="606.1" width="17.6" height="17.6"/>
<rect x="1929.6" y="653.2" width="17.6" height="17.6"/>
<rect x="1935.8" y="711.6" width="17.6" height="17.6"/>
<rect x="1941.7" y="760.6" width="17.6" height="17.6"/>
<rect x="1945.8" y="810.4" width="17.6" height="17.6"/>
<rect x="1946.4" y="862.3" width="17.6" height="17.6"/>
<rect x="1952.9" y="909.3" width="17.6" height="17.6"/>
<rect x="1958.6" y="966.1" width="17.6" height="17.6"/>
<rect x="1958.3" y="1010.5" width="17.6" height="17.6"/>
<rect x="1966.2" y="1070.4" width="17.6" height="17.6"/>
<rect x="1981.1" y="1112.1" width="17.6" height="17.6"/>
<rect x="1997.9" y="1065.6" width="17.6" height="17.6"/>
<rect x="2003.9" y="1012.7" width="17.6" height="17.6"/>
<rect x="2011.4" y="964.4" width="17.6" height="17.6"/>
<rect x="2013.2" y="917.1" width="17.6" height="17.6"/>
<rect x="2019.6" y="862.7" width="17.6" height="17.6"/>
<rect x="2024.6" y="806.8" width="17.6" height="17.6"/>
<rect x="2033.5" y="758.8" width="17.6" height="17.6"/>
<rect x="2036.2" y="704.9" width="17.6" height="17.6"/>
<rect x="2046.1" y="656.3" width="17.6" height="17.6"/>
<rect x="2054.6" y="604.8" width="17.6" height="17.6"/>
<rect x="2077.6" y="597.3" width="17.6" height="17.6"/>
<rect x="2089.8" y="645.1" width="17.6" height="17.6"/>
<rect x="2097.4" y="695.6" width="17.6" height="17.6"/>
<rect x="2104.1" y="742.1" width="17.6" height="17.6"/>
<rect x="2110.0" y="796.9" width="17.6" height="17.6"/>
<rect x="2118.2" y="846.8" width="17.6" height="17.6"/>
<rect x="2130.4" y="897.2" width="17.6" height="17.6"/>
<rect x="2139.9" y="946.2" width="17.6" height="17.6"/>
<rect x="2172.8" y="930.6" width="17.6" height="17.6"/>
<rect x="2179.6" y="882.8" width="17.6" height="17.6"/>
<rect x="2190.2" y="831.7" width="17.6" height="17.6"/>
<rect x="2199.9" y="782.8" width="17.6" height="17.6"/>
<rect x="2209.8" y="729.5" width="17.6" height="17.6"/>
<rect x="2220.5" y="681.6" width="17.6" height="17.6"/>
<rect x="2249.1" y="675.2" width="17.6" height="17.6"/>
<rect x="2264.4" y="717.9" width="17.6" height="17.6"/>
<rect x="2276.7" y="770.4" width="17.6" height="17.6"/>
<rect x="2287.0" y="822.1" width="17.6" height="17.6"/>
<rect x="2297.4" y="869.3" width="17.6" height="17.6"/>
</g>
<path d="M228.4 392.4l20.4 20.4M228.4 412.8l20.4 -20.4M246.8 428.3l20.4 20.4M246.8 448.7l20.4 -20.4M245.8 454.6l20.4 20.4M245.8 475.0l20.4 -20.4M246.8 481.9l20.4 20.4M246.8 502.3l20.4 -20.4M251.1 512.2l20.4 20.4M251.1 532.6l20.4 -20.4M251.8 531.6l20.4 20.4M251.8 552.0l20.4 -20.4M253.7 556.2l20.4 20.4M253.7 576.6l20.4 -20.4M258.2 586.3l20.4 20.4M258.2 606.7l20.4 -20.4M259.5 615.8l20.4 20.4M259.5 636.2l20.4 -20.4M262.1 633.1l20.4 20.4M262.1 653.5l20.4 -20.4M264.8 663.9l20.4 20.4M264.8 684.3l20.4 -20.4M264.2 691.0l20.4 20.4M264.2 711.4l20.4 -20.4M267.8 709.4l20.4 20.4M267.8 729.8l20.4 -20.4M268.7 736.8l20.4 20.4M268.7 757.2l20.4 -20.4M271.2 768.4l20.4 20.4M271.2 788.8l20.4 -20.4M272.1 787.6l20.4 20.4M272.1 808.0l20.4 -20.4M276.2 817.8l20.4 20.4M276.2 838.2l20.4 -20.4M275.8 845.7l20.4 20.4M275.8 866.1l20.4 -20.4M277.9 867.6l20.4 20.4M277.9 888.0l20.4 -20.4M279.3 888.9l20.4 20.4M279.3 909.3l20.4 -20.4M283.4 917.0l20.4 20.4M283.4 937.4l20.4 -20.4M286.6 943.2l20.4 20.4M286.6 963.6l20.4 -20.4M289.7 972.9l20.4 20.4M289.7 993.3l20.4 -20.4M294.2 1000.8l20.4 20.4M294.2 1021.2l20.4 -20.4M293.3 1021.7l20.4 20.4M293.3 1042.1l20.4 -20.4M299.7 1048.7l20.4 20.4M299.7 1069.1l20.4 -20.4M304.6 1074.0l20.4 20.4M304.6 1094.4l20.4 -20.4M305.6 1095.7l20.4 20.4M305.6 1116.1l20.4 -20.4M321.9 1110.6l20.4 20.4M321.9 1131.0l20.4 -20.4M327.6 1085.6l20.4 20.4M327.6 1106.0l20.4 -20.4M333.5 1058.7l20.4 20.4M333.5 1079.1l20.4 -20.4M334.1 1037.0l20.4 20.4M334.1 1057.4l20.4 -20.4M340.0 1009.0l20.4 20.4M340.0 1029.4l20.4 -20.4M340.7 983.6l20.4 20.4M340.7 1004.0l20.4 -20.4M344.3 958.2l20.4 20.4M344.3 978.6l20.4 -20.4M347.7 932.8l20.4 20.4M347.7 953.2l20.4 -20.4M349.5 914.0l20.4 20.4M349.5 934.4l20.4 -20.4M353.9 882.9l20.4 20.4M353.9 903.3l20.4 -20.4M357.2 857.0l20.4 20.4M357.2 877.4l20.4 -20.4M357.4 832.3l20.4 20.4M357.4 852.7l20.4 -20.4M362.2 809.1l20.4 20.4M362.2 829.5l20.4 -20.4M360.9 784.3l20.4 20.4M360.9 804.7l20.4 -20.4M366.7 761.7l20.4 20.4M366.7 782.1l20.4 -20.4M370.3 732.9l20.4 20.4M370.3 753.3l20.4 -20.4M368.6 704.4l20.4 20.4M368.6 724.8l20.4 -20.4M374.1 677.7l20.4 20.4M374.1 698.1l20.4 -20.4M376.6 651.3l20.4 20.4M376.6 671.7l20.4 -20.4M379.2 633.2l20.4 20.4M379.2 653.6l20.4 -20.4M387.5 608.2l20.4 20.4M387.5 628.6l20.4 -20.4M393.4 582.6l20.4 20.4M393.4 603.0l20.4 -20.4M404.8 573.8l20.4 20.4M404.8 594.2l20.4 -20.4M415.6 599.3l20.4 20.4M415.6 619.7l20.4 -20.4M420.2 627.5l20.4 20.4M420.2 647.9l20.4 -20.4M424.0 654.8l20.4 20.4M424.0 675.2l20.4 -20.4M429.2 680.8l20.4 20.4M429.2 701.2l20.4 -20.4M428.8 701.1l20.4 20.4M428.8 721.5l20.4 -20.4M433.4 726.0l20.4 20.4M433.4 746.4l20.4 -20.4M440.4 754.0l20.4 20.4M440.4 774.4l20.4 -20.4M441.5 778.6l20.4 20.4M441.5 799.0l20.4 -20.4M443.0 802.7l20.4 20.4M443.0 823.1l20.4 -20.4M450.1 833.2l20.4 20.4M450.1 853.6l20.4 -20.4M452.0 860.5l20.4 20.4M452.0 880.9l20.4 -20.4M456.2 883.6l20.4 20.4M456.2 904.0l20.4 -20.4M463.6 910.4l20.4 20.4M463.6 930.8l20.4 -20.4M469.7 928.4l20.4 20.4M469.7 948.8l20.4 -20.4M476.1 956.0l20.4 20.4M476.1 976.4l20.4 -20.4M492.8 947.0l20.4 20.4M492.8 967.4l20.4 -20.4M504.9 917.6l20.4 20.4M504.9 938.0l20.4 -20.4M508.3 900.6l20.4 20.4M508.3 921.0l20.4 -20.4M513.7 875.8l20.4 20.4M513.7 896.2l20.4 -20.4M521.9 848.3l20.4 20.4M521.9 868.7l20.4 -20.4M526.8 823.4l20.4 20.4M526.8 843.8l20.4 -20.4M529.4 800.6l20.4 20.4M529.4 821.0l20.4 -20.4M536.0 766.5l20.4 20.4M536.0 786.9l20.4 -20.4M537.1 746.3l20.4 20.4M537.1 766.7l20.4 -20.4M546.6 716.8l20.4 20.4M546.6 737.2l20.4 -20.4M552.1 690.9l20.4 20.4M552.1 711.3l20.4 -20.4M559.1 673.0l20.4 20.4M559.1 693.4l20.4 -20.4M580.4 667.6l20.4 20.4M580.4 688.0l20.4 -20.4M588.9 684.9l20.4 20.4M588.9 705.3l20.4 -20.4M594.4 714.1l20.4 20.4M594.4 734.5l20.4 -20.4M601.5 740.1l20.4 20.4M601.5 760.5l20.4 -20.4M608.4 762.8l20.4 20.4M608.4 783.2l20.4 -20.4M611.0 781.4l20.4 20.4M611.0 801.8l20.4 -20.4M618.5 812.6l20.4 20.4M618.5 833.0l20.4 -20.4M622.1 834.6l20.4 20.4M622.1 855.0l20.4 -20.4M628.9 859.0l20.4 20.4M628.9 879.4l20.4 -20.4M633.2 883.1l20.4 20.4M633.2 903.5l20.4 -20.4M648.2 914.4l20.4 20.4M648.2 934.8l20.4 -20.4M663.6 921.2l20.4 20.4M663.6 941.6l20.4 -20.4M671.7 895.5l20.4 20.4M671.7 915.9l20.4 -20.4M679.2 873.9l20.4 20.4M679.2 894.3l20.4 -20.4M682.4 844.5l20.4 20.4M682.4 864.9l20.4 -20.4M690.4 816.8l20.4 20.4M690.4 837.2l20.4 -20.4M694.8 793.4l20.4 20.4M694.8 813.8l20.4 -20.4M698.5 773.9l20.4 20.4M698.5 794.3l20.4 -20.4M705.4 743.0l20.4 20.4M705.4 763.4l20.4 -20.4M713.4 722.0l20.4 20.4M713.4 742.4l20.4 -20.4M716.8 698.4l20.4 20.4M716.8 718.8l20.4 -20.4M729.2 674.0l20.4 20.4M729.2 694.4l20.4 -20.4M744.4 661.0l20.4 20.4M744.4 681.4l20.4 -20.4M753.1 678.5l20.4 20.4M753.1 698.9l20.4 -20.4M765.4 709.0l20.4 20.4M765.4 729.4l20.4 -20.4M767.8 734.6l20.4 20.4M767.8 755.0l20.4 -20.4M770.6 755.1l20.4 20.4M770.6 775.5l20.4 -20.4M776.6 782.9l20.4 20.4M776.6 803.3l20.4 -20.4M784.6 810.3l20.4 20.4M784.6 830.7l20.4 -20.4M788.7 834.7l20.4 20.4M788.7 855.1l20.4 -20.4M792.5 862.1l20.4 20.4M792.5 882.5l20.4 -20.4M794.6 883.4l20.4 20.4M794.6 903.8l20.4 -20.4M799.9 911.2l20.4 20.4M799.9 931.6l20.4 -20.4M804.0 930.6l20.4 20.4M804.0 951.0l20.4 -20.4M821.0 958.5l20.4 20.4M821.0 978.9l20.4 -20.4M832.0 940.4l20.4 20.4M832.0 960.8l20.4 -20.4M838.6 918.6l20.4 20.4M838.6 939.0l20.4 -20.4M847.5 887.3l20.4 20.4M847.5 907.7l20.4 -20.4M847.4 869.8l20.4 20.4M847.4 890.2l20.4 -20.4M853.9 835.7l20.4 20.4M853.9 856.1l20.4 -20.4M855.6 814.0l20.4 20.4M855.6 834.4l20.4 -20.4M858.4 790.3l20.4 20.4M858.4 810.7l20.4 -20.4M862.3 766.3l20.4 20.4M862.3 786.7l20.4 -20.4M869.0 740.1l20.4 20.4M869.0 760.5l20.4 -20.4M873.8 715.0l20.4 20.4M873.8 735.4l20.4 -20.4M873.1 690.9l20.4 20.4M873.1 711.3l20.4 -20.4M879.6 665.9l20.4 20.4M879.6 686.3l20.4 -20.4M884.3 635.8l20.4 20.4M884.3 656.2l20.4 -20.4M889.1 606.0l20.4 20.4M889.1 626.4l20.4 -20.4M897.9 589.4l20.4 20.4M897.9 609.8l20.4 -20.4M914.2 588.5l20.4 20.4M914.2 608.9l20.4 -20.4M919.3 611.2l20.4 20.4M919.3 631.6l20.4 -20.4M925.9 632.6l20.4 20.4M925.9 653.0l20.4 -20.4M928.2 662.0l20.4 20.4M928.2 682.4l20.4 -20.4M931.0 689.6l20.4 20.4M931.0 710.0l20.4 -20.4M933.5 712.4l20.4 20.4M933.5 732.8l20.4 -20.4M939.2 737.4l20.4 20.4M939.2 757.8l20.4 -20.4M943.3 762.8l20.4 20.4M943.3 783.2l20.4 -20.4M945.9 792.4l20.4 20.4M945.9 812.8l20.4 -20.4M945.0 813.9l20.4 20.4M945.0 834.3l20.4 -20.4M947.3 844.4l20.4 20.4M947.3 864.8l20.4 -20.4M948.9 866.8l20.4 20.4M948.9 887.2l20.4 -20.4M952.6 895.7l20.4 20.4M952.6 916.1l20.4 -20.4M957.8 916.1l20.4 20.4M957.8 936.5l20.4 -20.4M958.0 945.1l20.4 20.4M958.0 965.5l20.4 -20.4M961.1 969.9l20.4 20.4M961.1 990.3l20.4 -20.4M963.0 996.4l20.4 20.4M963.0 1016.8l20.4 -20.4M963.7 1020.2l20.4 20.4M963.7 1040.6l20.4 -20.4M969.3 1044.1l20.4 20.4M969.3 1064.5l20.4 -20.4M969.9 1069.8l20.4 20.4M969.9 1090.2l20.4 -20.4M975.6 1098.5l20.4 20.4M975.6 1118.9l20.4 -20.4M983.5 1118.7l20.4 20.4M983.5 1139.1l20.4 -20.4M996.3 1114.5l20.4 20.4M996.3 1134.9l20.4 -20.4M1000.5 1088.6l20.4 20.4M1000.5 1109.0l20.4 -20.4M1003.4 1070.5l20.4 20.4M1003.4 1090.9l20.4 -20.4M1002.9 1041.1l20.4 20.4M1002.9 1061.5l20.4 -20.4M1007.7 1016.1l20.4 20.4M1007.7 1036.5l20.4 -20.4M1012.4 986.6l20.4 20.4M1012.4 1007.0l20.4 -20.4M1011.5 962.8l20.4 20.4M1011.5 983.2l20.4 -20.4M1015.3 937.2l20.4 20.4M1015.3 957.6l20.4 -20.4M1016.7 909.4l20.4 20.4M1016.7 929.8l20.4 -20.4M1016.6 881.2l20.4 20.4M1016.6 901.6l20.4 -20.4M1020.7 860.0l20.4 20.4M1020.7 880.4l20.4 -20.4M1023.2 837.5l20.4 20.4M1023.2 857.9l20.4 -20.4M1021.3 809.9l20.4 20.4M1021.3 830.3l20.4 -20.4M1026.0 780.4l20.4 20.4M1026.0 800.8l20.4 -20.4M1025.4 761.1l20.4 20.4M1025.4 781.5l20.4 -20.4M1028.8 730.2l20.4 20.4M1028.8 750.6l20.4 -20.4M1030.6 704.1l20.4 20.4M1030.6 724.5l20.4 -20.4M1029.3 682.7l20.4 20.4M1029.3 703.1l20.4 -20.4M1033.6 657.5l20.4 20.4M1033.6 677.9l20.4 -20.4M1034.0 632.5l20.4 20.4M1034.0 652.9l20.4 -20.4M1038.2 601.5l20.4 20.4M1038.2 621.9l20.4 -20.4M1041.1 580.1l20.4 20.4M1041.1 600.5l20.4 -20.4M1041.0 555.3l20.4 20.4M1041.0 575.7l20.4 -20.4M1042.5 527.3l20.4 20.4M1042.5 547.7l20.4 -20.4M1044.0 501.1l20.4 20.4M1044.0 521.5l20.4 -20.4M1049.2 479.3l20.4 20.4M1049.2 499.7l20.4 -20.4M1049.5 454.0l20.4 20.4M1049.5 474.4l20.4 -20.4M1053.7 430.4l20.4 20.4M1053.7 450.8l20.4 -20.4M1059.4 400.7l20.4 20.4M1059.4 421.1l20.4 -20.4M1072.9 417.3l20.4 20.4M1072.9 437.7l20.4 -20.4M1078.4 443.0l20.4 20.4M1078.4 463.4l20.4 -20.4M1082.0 471.7l20.4 20.4M1082.0 492.1l20.4 -20.4M1085.2 493.8l20.4 20.4M1085.2 514.2l20.4 -20.4M1087.3 518.5l20.4 20.4M1087.3 538.9l20.4 -20.4M1091.7 542.8l20.4 20.4M1091.7 563.2l20.4 -20.4M1092.2 572.2l20.4 20.4M1092.2 592.6l20.4 -20.4M1093.7 597.9l20.4 20.4M1093.7 618.3l20.4 -20.4M1094.7 625.5l20.4 20.4M1094.7 645.9l20.4 -20.4M1099.5 645.9l20.4 20.4M1099.5 666.3l20.4 -20.4M1101.1 675.1l20.4 20.4M1101.1 695.5l20.4 -20.4M1102.7 699.7l20.4 20.4M1102.7 720.1l20.4 -20.4M1106.4 726.3l20.4 20.4M1106.4 746.7l20.4 -20.4M1105.8 751.9l20.4 20.4M1105.8 772.3l20.4 -20.4M1109.5 770.4l20.4 20.4M1109.5 790.8l20.4 -20.4M1112.8 801.2l20.4 20.4M1112.8 821.6l20.4 -20.4M1111.1 830.1l20.4 20.4M1111.1 850.5l20.4 -20.4M1112.7 847.8l20.4 20.4M1112.7 868.2l20.4 -20.4M1118.5 879.6l20.4 20.4M1118.5 900.0l20.4 -20.4M1117.7 906.8l20.4 20.4M1117.7 927.2l20.4 -20.4M1121.7 931.0l20.4 20.4M1121.7 951.4l20.4 -20.4M1123.5 954.6l20.4 20.4M1123.5 975.0l20.4 -20.4M1126.2 980.5l20.4 20.4M1126.2 1000.9l20.4 -20.4M1126.3 1007.2l20.4 20.4M1126.3 1027.6l20.4 -20.4M1132.0 1035.0l20.4 20.4M1132.0 1055.4l20.4 -20.4M1134.5 1055.7l20.4 20.4M1134.5 1076.1l20.4 -20.4M1138.9 1082.8l20.4 20.4M1138.9 1103.2l20.4 -20.4M1147.5 1111.5l20.4 20.4M1147.5 1131.9l20.4 -20.4M1158.3 1096.9l20.4 20.4M1158.3 1117.3l20.4 -20.4M1160.5 1076.9l20.4 20.4M1160.5 1097.3l20.4 -20.4M1167.7 1043.2l20.4 20.4M1167.7 1063.6l20.4 -20.4M1171.4 1019.2l20.4 20.4M1171.4 1039.6l20.4 -20.4M1174.4 991.1l20.4 20.4M1174.4 1011.5l20.4 -20.4M1175.6 971.4l20.4 20.4M1175.6 991.8l20.4 -20.4M1176.6 948.8l20.4 20.4M1176.6 969.2l20.4 -20.4M1184.3 914.7l20.4 20.4M1184.3 935.1l20.4 -20.4M1182.1 893.1l20.4 20.4M1182.1 913.5l20.4 -20.4M1183.9 871.0l20.4 20.4M1183.9 891.4l20.4 -20.4M1190.2 846.0l20.4 20.4M1190.2 866.4l20.4 -20.4M1190.8 814.4l20.4 20.4M1190.8 834.8l20.4 -20.4M1195.9 787.5l20.4 20.4M1195.9 807.9l20.4 -20.4M1197.2 765.7l20.4 20.4M1197.2 786.1l20.4 -20.4M1200.3 740.9l20.4 20.4M1200.3 761.3l20.4 -20.4M1200.3 717.3l20.4 20.4M1200.3 737.7l20.4 -20.4M1208.4 688.8l20.4 20.4M1208.4 709.2l20.4 -20.4M1211.5 663.3l20.4 20.4M1211.5 683.7l20.4 -20.4M1213.8 639.3l20.4 20.4M1213.8 659.7l20.4 -20.4M1219.8 615.2l20.4 20.4M1219.8 635.6l20.4 -20.4M1224.5 591.8l20.4 20.4M1224.5 612.2l20.4 -20.4M1239.4 583.7l20.4 20.4M1239.4 604.1l20.4 -20.4M1249.5 607.3l20.4 20.4M1249.5 627.7l20.4 -20.4M1252.9 634.0l20.4 20.4M1252.9 654.4l20.4 -20.4M1258.6 660.4l20.4 20.4M1258.6 680.8l20.4 -20.4M1261.8 687.8l20.4 20.4M1261.8 708.2l20.4 -20.4M1269.0 708.3l20.4 20.4M1269.0 728.7l20.4 -20.4M1272.9 739.9l20.4 20.4M1272.9 760.3l20.4 -20.4M1272.2 757.1l20.4 20.4M1272.2 777.5l20.4 -20.4M1278.0 786.1l20.4 20.4M1278.0 806.5l20.4 -20.4M1284.6 814.0l20.4 20.4M1284.6 834.4l20.4 -20.4M1284.3 833.4l20.4 20.4M1284.3 853.8l20.4 -20.4M1291.2 860.2l20.4 20.4M1291.2 880.6l20.4 -20.4M1294.4 890.0l20.4 20.4M1294.4 910.4l20.4 -20.4M1298.3 911.4l20.4 20.4M1298.3 931.8l20.4 -20.4M1304.6 937.4l20.4 20.4M1304.6 957.8l20.4 -20.4M1323.0 953.9l20.4 20.4M1323.0 974.3l20.4 -20.4M1334.7 931.7l20.4 20.4M1334.7 952.1l20.4 -20.4M1341.4 905.7l20.4 20.4M1341.4 926.1l20.4 -20.4M1344.3 885.0l20.4 20.4M1344.3 905.4l20.4 -20.4M1349.6 856.3l20.4 20.4M1349.6 876.7l20.4 -20.4M1357.9 836.3l20.4 20.4M1357.9 856.7l20.4 -20.4M1358.4 805.7l20.4 20.4M1358.4 826.1l20.4 -20.4M1365.4 786.6l20.4 20.4M1365.4 807.0l20.4 -20.4M1368.9 758.0l20.4 20.4M1368.9 778.4l20.4 -20.4M1373.9 730.3l20.4 20.4M1373.9 750.7l20.4 -20.4M1380.2 703.3l20.4 20.4M1380.2 723.7l20.4 -20.4M1387.2 684.8l20.4 20.4M1387.2 705.2l20.4 -20.4M1398.4 658.1l20.4 20.4M1398.4 678.5l20.4 -20.4M1412.8 667.9l20.4 20.4M1412.8 688.3l20.4 -20.4M1426.5 697.3l20.4 20.4M1426.5 717.7l20.4 -20.4M1431.2 720.3l20.4 20.4M1431.2 740.7l20.4 -20.4M1435.3 741.4l20.4 20.4M1435.3 761.8l20.4 -20.4M1442.9 766.7l20.4 20.4M1442.9 787.1l20.4 -20.4M1450.5 796.3l20.4 20.4M1450.5 816.7l20.4 -20.4M1454.1 819.0l20.4 20.4M1454.1 839.4l20.4 -20.4M1461.0 844.5l20.4 20.4M1461.0 864.9l20.4 -20.4M1466.1 871.4l20.4 20.4M1466.1 891.8l20.4 -20.4M1476.6 898.5l20.4 20.4M1476.6 918.9l20.4 -20.4M1484.9 917.1l20.4 20.4M1484.9 937.5l20.4 -20.4M1499.1 907.5l20.4 20.4M1499.1 927.9l20.4 -20.4M1507.6 882.1l20.4 20.4M1507.6 902.5l20.4 -20.4M1517.4 859.6l20.4 20.4M1517.4 880.0l20.4 -20.4M1519.0 833.6l20.4 20.4M1519.0 854.0l20.4 -20.4M1525.9 808.0l20.4 20.4M1525.9 828.4l20.4 -20.4M1530.5 788.6l20.4 20.4M1530.5 809.0l20.4 -20.4M1536.9 761.1l20.4 20.4M1536.9 781.5l20.4 -20.4M1541.7 734.1l20.4 20.4M1541.7 754.5l20.4 -20.4M1548.7 711.1l20.4 20.4M1548.7 731.5l20.4 -20.4M1558.3 680.3l20.4 20.4M1558.3 700.7l20.4 -20.4M1567.3 667.2l20.4 20.4M1567.3 687.6l20.4 -20.4M1589.3 681.5l20.4 20.4M1589.3 701.9l20.4 -20.4M1595.3 704.1l20.4 20.4M1595.3 724.5l20.4 -20.4M1601.8 728.8l20.4 20.4M1601.8 749.2l20.4 -20.4M1603.9 754.4l20.4 20.4M1603.9 774.8l20.4 -20.4M1610.1 779.1l20.4 20.4M1610.1 799.5l20.4 -20.4M1611.3 803.2l20.4 20.4M1611.3 823.6l20.4 -20.4M1617.0 833.0l20.4 20.4M1617.0 853.4l20.4 -20.4M1622.5 857.2l20.4 20.4M1622.5 877.6l20.4 -20.4M1626.5 879.7l20.4 20.4M1626.5 900.1l20.4 -20.4M1630.9 905.0l20.4 20.4M1630.9 925.4l20.4 -20.4M1639.7 931.7l20.4 20.4M1639.7 952.1l20.4 -20.4M1646.1 953.8l20.4 20.4M1646.1 974.2l20.4 -20.4M1668.7 950.3l20.4 20.4M1668.7 970.7l20.4 -20.4M1671.6 928.5l20.4 20.4M1671.6 948.9l20.4 -20.4M1680.0 904.6l20.4 20.4M1680.0 925.0l20.4 -20.4M1684.1 877.4l20.4 20.4M1684.1 897.8l20.4 -20.4M1688.2 849.7l20.4 20.4M1688.2 870.1l20.4 -20.4M1688.4 830.4l20.4 20.4M1688.4 850.8l20.4 -20.4M1693.6 801.8l20.4 20.4M1693.6 822.2l20.4 -20.4M1699.0 781.1l20.4 20.4M1699.0 801.5l20.4 -20.4M1700.7 748.9l20.4 20.4M1700.7 769.3l20.4 -20.4M1703.0 725.4l20.4 20.4M1703.0 745.8l20.4 -20.4M1706.0 704.0l20.4 20.4M1706.0 724.4l20.4 -20.4M1711.5 674.7l20.4 20.4M1711.5 695.1l20.4 -20.4M1713.3 652.7l20.4 20.4M1713.3 673.1l20.4 -20.4M1717.1 621.1l20.4 20.4M1717.1 641.5l20.4 -20.4M1722.4 600.5l20.4 20.4M1722.4 620.9l20.4 -20.4M1729.7 576.2l20.4 20.4M1729.7 596.6l20.4 -20.4M1744.7 576.0l20.4 20.4M1744.7 596.4l20.4 -20.4M1752.5 596.8l20.4 20.4M1752.5 617.2l20.4 -20.4M1756.4 622.6l20.4 20.4M1756.4 643.0l20.4 -20.4M1759.5 648.9l20.4 20.4M1759.5 669.3l20.4 -20.4M1763.3 674.7l20.4 20.4M1763.3 695.1l20.4 -20.4M1765.1 698.4l20.4 20.4M1765.1 718.8l20.4 -20.4M1768.7 720.5l20.4 20.4M1768.7 740.9l20.4 -20.4M1773.6 750.9l20.4 20.4M1773.6 771.3l20.4 -20.4M1776.9 780.5l20.4 20.4M1776.9 800.9l20.4 -20.4M1776.6 799.1l20.4 20.4M1776.6 819.5l20.4 -20.4M1779.0 829.1l20.4 20.4M1779.0 849.5l20.4 -20.4M1784.0 855.0l20.4 20.4M1784.0 875.4l20.4 -20.4M1783.4 882.8l20.4 20.4M1783.4 903.2l20.4 -20.4M1788.1 904.9l20.4 20.4M1788.1 925.3l20.4 -20.4M1791.0 932.4l20.4 20.4M1791.0 952.8l20.4 -20.4M1791.5 956.7l20.4 20.4M1791.5 977.1l20.4 -20.4M1796.3 982.1l20.4 20.4M1796.3 1002.5l20.4 -20.4M1795.9 1004.4l20.4 20.4M1795.9 1024.8l20.4 -20.4M1798.8 1034.2l20.4 20.4M1798.8 1054.6l20.4 -20.4M1802.0 1054.3l20.4 20.4M1802.0 1074.7l20.4 -20.4M1806.7 1084.3l20.4 20.4M1806.7 1104.7l20.4 -20.4M1807.0 1105.5l20.4 20.4M1807.0 1125.9l20.4 -20.4M1817.9 1126.3l20.4 20.4M1817.9 1146.7l20.4 -20.4M1828.3 1107.9l20.4 20.4M1828.3 1128.3l20.4 -20.4M1833.6 1081.8l20.4 20.4M1833.6 1102.2l20.4 -20.4M1834.0 1052.4l20.4 20.4M1834.0 1072.8l20.4 -20.4M1840.8 1022.3l20.4 20.4M1840.8 1042.7l20.4 -20.4M1839.3 1003.5l20.4 20.4M1839.3 1023.9l20.4 -20.4M1843.4 979.4l20.4 20.4M1843.4 999.8l20.4 -20.4M1846.0 946.1l20.4 20.4M1846.0 966.5l20.4 -20.4M1850.1 922.8l20.4 20.4M1850.1 943.2l20.4 -20.4M1847.5 898.0l20.4 20.4M1847.5 918.4l20.4 -20.4M1851.0 873.1l20.4 20.4M1851.0 893.5l20.4 -20.4M1852.5 849.6l20.4 20.4M1852.5 870.0l20.4 -20.4M1857.9 819.2l20.4 20.4M1857.9 839.6l20.4 -20.4M1855.3 794.1l20.4 20.4M1855.3 814.5l20.4 -20.4M1858.2 773.4l20.4 20.4M1858.2 793.8l20.4 -20.4M1858.8 745.6l20.4 20.4M1858.8 766.0l20.4 -20.4M1860.8 723.6l20.4 20.4M1860.8 744.0l20.4 -20.4M1862.2 695.4l20.4 20.4M1862.2 715.8l20.4 -20.4M1866.6 665.9l20.4 20.4M1866.6 686.3l20.4 -20.4M1868.4 640.0l20.4 20.4M1868.4 660.4l20.4 -20.4M1868.1 619.1l20.4 20.4M1868.1 639.5l20.4 -20.4M1869.7 587.5l20.4 20.4M1869.7 607.9l20.4 -20.4M1875.6 566.2l20.4 20.4M1875.6 586.6l20.4 -20.4M1874.4 537.5l20.4 20.4M1874.4 557.9l20.4 -20.4M1880.4 512.9l20.4 20.4M1880.4 533.3l20.4 -20.4M1881.9 486.4l20.4 20.4M1881.9 506.8l20.4 -20.4M1881.1 460.2l20.4 20.4M1881.1 480.6l20.4 -20.4M1885.1 437.6l20.4 20.4M1885.1 458.0l20.4 -20.4M1888.6 407.8l20.4 20.4M1888.6 428.2l20.4 -20.4M1899.9 402.4l20.4 20.4M1899.9 422.8l20.4 -20.4M1909.4 425.9l20.4 20.4M1909.4 446.3l20.4 -20.4M1912.6 452.9l20.4 20.4M1912.6 473.3l20.4 -20.4M1914.9 472.5l20.4 20.4M1914.9 492.9l20.4 -20.4M1915.7 499.7l20.4 20.4M1915.7 520.1l20.4 -20.4M1923.4 530.0l20.4 20.4M1923.4 550.4l20.4 -20.4M1923.9 556.5l20.4 20.4M1923.9 576.9l20.4 -20.4M1926.5 578.8l20.4 20.4M1926.5 599.2l20.4 -20.4M1927.1 603.7l20.4 20.4M1927.1 624.1l20.4 -20.4M1928.7 627.1l20.4 20.4M1928.7 647.5l20.4 -20.4M1932.0 655.0l20.4 20.4M1932.0 675.4l20.4 -20.4M1933.2 687.0l20.4 20.4M1933.2 707.4l20.4 -20.4M1938.2 707.6l20.4 20.4M1938.2 728.0l20.4 -20.4M1936.3 729.4l20.4 20.4M1936.3 749.8l20.4 -20.4M1938.9 755.3l20.4 20.4M1938.9 775.7l20.4 -20.4M1939.4 786.4l20.4 20.4M1939.4 806.8l20.4 -20.4M1943.4 809.0l20.4 20.4M1943.4 829.4l20.4 -20.4M1946.1 834.2l20.4 20.4M1946.1 854.6l20.4 -20.4M1946.5 862.2l20.4 20.4M1946.5 882.6l20.4 -20.4M1947.4 891.2l20.4 20.4M1947.4 911.6l20.4 -20.4M1949.4 910.8l20.4 20.4M1949.4 931.2l20.4 -20.4M1954.1 938.7l20.4 20.4M1954.1 959.1l20.4 -20.4M1957.4 965.0l20.4 20.4M1957.4 985.4l20.4 -20.4M1955.5 986.3l20.4 20.4M1955.5 1006.7l20.4 -20.4M1959.9 1019.8l20.4 20.4M1959.9 1040.2l20.4 -20.4M1965.6 1037.3l20.4 20.4M1965.6 1057.7l20.4 -20.4M1965.9 1067.3l20.4 20.4M1965.9 1087.7l20.4 -20.4M1971.8 1092.8l20.4 20.4M1971.8 1113.2l20.4 -20.4M1980.0 1111.1l20.4 20.4M1980.0 1131.5l20.4 -20.4M1989.6 1084.1l20.4 20.4M1989.6 1104.5l20.4 -20.4M1996.6 1063.7l20.4 20.4M1996.6 1084.1l20.4 -20.4M1998.8 1033.5l20.4 20.4M1998.8 1053.9l20.4 -20.4M2005.0 1008.7l20.4 20.4M2005.0 1029.1l20.4 -20.4M2005.9 982.5l20.4 20.4M2005.9 1002.9l20.4 -20.4M2008.6 953.1l20.4 20.4M2008.6 973.5l20.4 -20.4M2010.0 937.3l20.4 20.4M2010.0 957.7l20.4 -20.4M2016.9 908.0l20.4 20.4M2016.9 928.4l20.4 -20.4M2016.9 882.8l20.4 20.4M2016.9 903.2l20.4 -20.4M2018.5 853.6l20.4 20.4M2018.5 874.0l20.4 -20.4M2020.8 830.5l20.4 20.4M2020.8 850.9l20.4 -20.4M2027.5 809.4l20.4 20.4M2027.5 829.8l20.4 -20.4M2027.6 780.2l20.4 20.4M2027.6 800.6l20.4 -20.4M2031.1 753.4l20.4 20.4M2031.1 773.8l20.4 -20.4M2036.0 729.1l20.4 20.4M2036.0 749.5l20.4 -20.4M2034.8 699.9l20.4 20.4M2034.8 720.3l20.4 -20.4M2041.5 682.1l20.4 20.4M2041.5 702.5l20.4 -20.4M2044.4 654.1l20.4 20.4M2044.4 674.5l20.4 -20.4M2050.8 625.4l20.4 20.4M2050.8 645.8l20.4 -20.4M2053.4 600.5l20.4 20.4M2053.4 620.9l20.4 -20.4M2062.0 579.1l20.4 20.4M2062.0 599.5l20.4 -20.4M2075.2 591.8l20.4 20.4M2075.2 612.2l20.4 -20.4M2083.9 615.6l20.4 20.4M2083.9 636.0l20.4 -20.4M2085.9 646.0l20.4 20.4M2085.9 666.4l20.4 -20.4M2093.3 667.9l20.4 20.4M2093.3 688.3l20.4 -20.4M2097.4 698.0l20.4 20.4M2097.4 718.4l20.4 -20.4M2098.3 719.4l20.4 20.4M2098.3 739.8l20.4 -20.4M2103.3 741.0l20.4 20.4M2103.3 761.4l20.4 -20.4M2107.2 768.8l20.4 20.4M2107.2 789.2l20.4 -20.4M2110.1 795.1l20.4 20.4M2110.1 815.5l20.4 -20.4M2114.2 823.4l20.4 20.4M2114.2 843.8l20.4 -20.4M2120.4 850.0l20.4 20.4M2120.4 870.4l20.4 -20.4M2125.3 873.1l20.4 20.4M2125.3 893.5l20.4 -20.4M2130.2 896.6l20.4 20.4M2130.2 917.0l20.4 -20.4M2136.4 923.1l20.4 20.4M2136.4 943.5l20.4 -20.4M2145.7 946.7l20.4 20.4M2145.7 967.1l20.4 -20.4M2159.1 952.8l20.4 20.4M2159.1 973.2l20.4 -20.4M2170.3 927.5l20.4 20.4M2170.3 947.9l20.4 -20.4M2178.2 906.7l20.4 20.4M2178.2 927.1l20.4 -20.4M2182.7 875.8l20.4 20.4M2182.7 896.2l20.4 -20.4M2184.9 853.4l20.4 20.4M2184.9 873.8l20.4 -20.4M2191.7 827.6l20.4 20.4M2191.7 848.0l20.4 -20.4M2195.2 802.7l20.4 20.4M2195.2 823.1l20.4 -20.4M2200.7 780.2l20.4 20.4M2200.7 800.6l20.4 -20.4M2205.1 750.8l20.4 20.4M2205.1 771.2l20.4 -20.4M2211.0 729.6l20.4 20.4M2211.0 750.0l20.4 -20.4M2213.7 700.8l20.4 20.4M2213.7 721.2l20.4 -20.4M2224.5 674.4l20.4 20.4M2224.5 694.8l20.4 -20.4M2232.0 654.8l20.4 20.4M2232.0 675.2l20.4 -20.4M2248.8 667.5l20.4 20.4M2248.8 687.9l20.4 -20.4M2254.7 693.3l20.4 20.4M2254.7 713.7l20.4 -20.4M2262.8 717.2l20.4 20.4M2262.8 737.6l20.4 -20.4M2272.5 748.5l20.4 20.4M2272.5 768.9l20.4 -20.4M2277.0 768.0l20.4 20.4M2277.0 788.4l20.4 -20.4M2281.7 794.4l20.4 20.4M2281.7 814.8l20.4 -20.4M2288.0 820.1l20.4 20.4M2288.0 840.5l20.4 -20.4M2290.1 848.0l20.4 20.4M2290.1 868.4l20.4 -20.4M2296.9 867.9l20.4 20.4M2296.9 888.3l20.4 -20.4M2304.5 891.1l20.4 20.4M2304.5 911.5l20.4 -20.4" fill="none" stroke="#000" stroke-width="1.2"/>
<path d="M240.4 388.6l8.1 14.4h-16.2zM251.4 405.8l8.1 14.4h-16.2zM256.9 427.6l8.1 14.4h-16.2zM253.2 456.9l8.1 14.4h-16.2zM257.7 478.4l8.1 14.4h-16.2zM261.0 508.6l8.1 14.4h-16.2zM264.5 530.5l8.1 14.4h-16.2zM264.6 560.7l8.1 14.4h-16.2zM267.1 585.6l8.1 14.4h-16.2zM269.6 612.8l8.1 14.4h-16.2zM270.9 635.3l8.1 14.4h-16.2zM272.7 665.2l8.1 14.4h-16.2zM277.7 689.7l8.1 14.4h-16.2zM276.6 712.8l8.1 14.4h-16.2zM276.8 737.8l8.1 14.4h-16.2zM283.0 766.2l8.1 14.4h-16.2zM284.9 791.3l8.1 14.4h-16.2zM282.4 814.2l8.1 14.4h-16.2zM287.1 843.1l8.1 14.4h-16.2zM288.5 864.9l8.1 14.4h-16.2zM289.3 890.4l8.1 14.4h-16.2zM294.2 919.2l8.1 14.4h-16.2zM297.3 943.7l8.1 14.4h-16.2zM296.7 969.6l8.1 14.4h-16.2zM298.6 995.5l8.1 14.4h-16.2zM304.2 1023.4l8.1 14.4h-16.2zM309.3 1050.2l8.1 14.4h-16.2zM309.4 1067.8l8.1 14.4h-16.2zM319.1 1101.1l8.1 14.4h-16.2zM330.9 1113.8l8.1 14.4h-16.2zM338.4 1091.9l8.1 14.4h-16.2zM340.7 1063.2l8.1 14.4h-16.2zM342.5 1044.8l8.1 14.4h-16.2zM346.0 1013.3l8.1 14.4h-16.2zM350.8 988.9l8.1 14.4h-16.2zM353.1 964.4l8.1 14.4h-16.2zM358.4 938.1l8.1 14.4h-16.2zM356.3 916.4l8.1 14.4h-16.2zM360.6 887.5l8.1 14.4h-16.2zM364.2 860.8l8.1 14.4h-16.2zM366.6 836.0l8.1 14.4h-16.2zM371.4 807.8l8.1 14.4h-16.2zM369.4 787.4l8.1 14.4h-16.2zM375.0 762.6l8.1 14.4h-16.2zM378.9 735.6l8.1 14.4h-16.2zM378.1 709.0l8.1 14.4h-16.2zM380.4 682.9l8.1 14.4h-16.2zM384.8 658.3l8.1 14.4h-16.2zM392.2 634.1l8.1 14.4h-16.2zM395.2 609.4l8.1 14.4h-16.2zM399.8 582.0l8.1 14.4h-16.2zM413.5 574.9l8.1 14.4h-16.2zM421.3 597.2l8.1 14.4h-16.2zM426.7 621.0l8.1 14.4h-16.2zM434.9 649.4l8.1 14.4h-16.2zM439.2 677.0l8.1 14.4h-16.2zM439.5 699.6l8.1 14.4h-16.2zM446.0 730.1l8.1 14.4h-16.2zM445.5 752.4l8.1 14.4h-16.2zM449.9 775.2l8.1 14.4h-16.2zM454.0 800.1l8.1 14.4h-16.2zM458.1 827.8l8.1 14.4h-16.2zM461.8 856.2l8.1 14.4h-16.2zM467.4 883.2l8.1 14.4h-16.2zM473.1 906.4l8.1 14.4h-16.2zM474.9 926.9l8.1 14.4h-16.2zM487.8 955.4l8.1 14.4h-16.2zM502.4 948.9l8.1 14.4h-16.2zM511.5 924.2l8.1 14.4h-16.2zM519.8 897.3l8.1 14.4h-16.2zM524.5 873.7l8.1 14.4h-16.2zM529.2 849.1l8.1 14.4h-16.2zM536.8 819.3l8.1 14.4h-16.2zM537.7 796.4l8.1 14.4h-16.2zM544.4 775.7l8.1 14.4h-16.2zM547.4 750.9l8.1 14.4h-16.2zM554.7 722.1l8.1 14.4h-16.2zM558.3 698.9l8.1 14.4h-16.2zM565.8 672.2l8.1 14.4h-16.2zM582.8 662.3l8.1 14.4h-16.2zM598.5 687.8l8.1 14.4h-16.2zM603.2 708.8l8.1 14.4h-16.2zM609.3 734.7l8.1 14.4h-16.2zM614.3 756.6l8.1 14.4h-16.2zM624.9 787.0l8.1 14.4h-16.2zM627.3 810.1l8.1 14.4h-16.2zM632.2 834.5l8.1 14.4h-16.2zM637.7 861.2l8.1 14.4h-16.2zM647.8 889.0l8.1 14.4h-16.2zM651.9 908.1l8.1 14.4h-16.2zM667.5 921.7l8.1 14.4h-16.2zM681.2 897.2l8.1 14.4h-16.2zM687.0 871.6l8.1 14.4h-16.2zM693.0 847.3l8.1 14.4h-16.2zM700.9 824.5l8.1 14.4h-16.2zM701.1 799.7l8.1 14.4h-16.2zM711.2 771.3l8.1 14.4h-16.2zM714.6 745.6l8.1 14.4h-16.2zM718.5 725.8l8.1 14.4h-16.2zM729.7 696.1l8.1 14.4h-16.2zM732.8 674.6l8.1 14.4h-16.2zM750.5 659.8l8.1 14.4h-16.2zM764.1 679.5l8.1 14.4h-16.2zM771.1 707.8l8.1 14.4h-16.2zM776.8 727.6l8.1 14.4h-16.2zM784.0 756.0l8.1 14.4h-16.2zM787.8 781.4l8.1 14.4h-16.2zM789.8 803.5l8.1 14.4h-16.2zM793.4 833.5l8.1 14.4h-16.2zM801.8 856.0l8.1 14.4h-16.2zM805.2 883.5l8.1 14.4h-16.2zM807.0 904.4l8.1 14.4h-16.2zM818.7 934.0l8.1 14.4h-16.2zM825.6 956.6l8.1 14.4h-16.2zM841.9 944.0l8.1 14.4h-16.2zM849.6 920.4l8.1 14.4h-16.2zM852.3 894.1l8.1 14.4h-16.2zM856.5 864.4l8.1 14.4h-16.2zM864.8 841.3l8.1 14.4h-16.2zM867.1 815.2l8.1 14.4h-16.2zM870.4 793.6l8.1 14.4h-16.2zM874.9 768.0l8.1 14.4h-16.2zM878.1 738.7l8.1 14.4h-16.2zM881.2 715.7l8.1 14.4h-16.2zM883.1 691.5l8.1 14.4h-16.2zM889.0 660.7l8.1 14.4h-16.2zM891.7 637.1l8.1 14.4h-16.2zM897.9 617.4l8.1 14.4h-16.2zM909.0 586.7l8.1 14.4h-16.2zM921.7 584.0l8.1 14.4h-16.2zM926.8 609.2l8.1 14.4h-16.2zM933.5 635.0l8.1 14.4h-16.2zM938.1 663.1l8.1 14.4h-16.2zM938.9 687.6l8.1 14.4h-16.2zM944.5 713.4l8.1 14.4h-16.2zM945.1 739.1l8.1 14.4h-16.2zM947.9 764.2l8.1 14.4h-16.2zM951.3 793.5l8.1 14.4h-16.2zM956.4 815.0l8.1 14.4h-16.2zM955.9 842.7l8.1 14.4h-16.2zM959.0 864.6l8.1 14.4h-16.2zM960.5 893.8l8.1 14.4h-16.2zM965.1 919.4l8.1 14.4h-16.2zM967.8 945.5l8.1 14.4h-16.2zM967.5 971.5l8.1 14.4h-16.2zM969.5 989.9l8.1 14.4h-16.2zM973.4 1021.1l8.1 14.4h-16.2zM978.1 1044.1l8.1 14.4h-16.2zM983.1 1067.7l8.1 14.4h-16.2zM982.4 1095.5l8.1 14.4h-16.2zM992.8 1122.0l8.1 14.4h-16.2zM1003.4 1119.7l8.1 14.4h-16.2zM1007.9 1095.7l8.1 14.4h-16.2zM1012.9 1066.9l8.1 14.4h-16.2zM1015.3 1042.9l8.1 14.4h-16.2zM1018.5 1017.0l8.1 14.4h-16.2zM1019.3 989.0l8.1 14.4h-16.2zM1022.3 969.4l8.1 14.4h-16.2zM1021.9 943.1l8.1 14.4h-16.2zM1027.1 913.4l8.1 14.4h-16.2zM1027.6 889.3l8.1 14.4h-16.2zM1026.5 863.9l8.1 14.4h-16.2zM1028.7 836.9l8.1 14.4h-16.2zM1034.9 808.3l8.1 14.4h-16.2zM1035.9 785.1l8.1 14.4h-16.2zM1034.9 762.5l8.1 14.4h-16.2zM1037.0 733.4l8.1 14.4h-16.2zM1040.7 709.5l8.1 14.4h-16.2zM1039.2 683.2l8.1 14.4h-16.2zM1042.8 659.7l8.1 14.4h-16.2zM1043.6 632.6l8.1 14.4h-16.2zM1047.7 610.5l8.1 14.4h-16.2zM1047.8 583.7l8.1 14.4h-16.2zM1049.8 557.5l8.1 14.4h-16.2zM1053.9 529.4l8.1 14.4h-16.2zM1054.3 507.8l8.1 14.4h-16.2zM1056.2 475.6l8.1 14.4h-16.2zM1060.1 453.3l8.1 14.4h-16.2zM1061.9 428.6l8.1 14.4h-16.2zM1069.3 403.2l8.1 14.4h-16.2zM1082.3 416.5l8.1 14.4h-16.2zM1088.2 442.7l8.1 14.4h-16.2zM1090.6 466.9l8.1 14.4h-16.2zM1093.4 489.8l8.1 14.4h-16.2zM1094.5 518.5l8.1 14.4h-16.2zM1099.8 544.1l8.1 14.4h-16.2zM1099.1 570.6l8.1 14.4h-16.2zM1103.9 596.2l8.1 14.4h-16.2zM1106.2 618.2l8.1 14.4h-16.2zM1105.1 645.1l8.1 14.4h-16.2zM1108.2 671.2l8.1 14.4h-16.2zM1113.0 696.2l8.1 14.4h-16.2zM1116.0 720.6l8.1 14.4h-16.2zM1117.3 745.6l8.1 14.4h-16.2zM1117.3 771.3l8.1 14.4h-16.2zM1120.4 799.9l8.1 14.4h-16.2zM1123.2 824.3l8.1 14.4h-16.2zM1124.8 852.6l8.1 14.4h-16.2zM1125.2 876.8l8.1 14.4h-16.2zM1130.0 904.3l8.1 14.4h-16.2zM1131.4 927.7l8.1 14.4h-16.2zM1132.1 949.3l8.1 14.4h-16.2zM1132.7 982.5l8.1 14.4h-16.2zM1135.7 1007.8l8.1 14.4h-16.2zM1142.7 1030.5l8.1 14.4h-16.2zM1142.9 1057.7l8.1 14.4h-16.2zM1146.4 1082.3l8.1 14.4h-16.2zM1152.4 1106.0l8.1 14.4h-16.2zM1165.0 1099.4l8.1 14.4h-16.2zM1169.4 1073.1l8.1 14.4h-16.2zM1176.5 1049.3l8.1 14.4h-16.2zM1177.8 1022.9l8.1 14.4h-16.2zM1179.7 1000.8l8.1 14.4h-16.2zM1183.9 973.4l8.1 14.4h-16.2zM1185.9 944.4l8.1 14.4h-16.2zM1189.6 924.4l8.1 14.4h-16.2zM1191.0 896.7l8.1 14.4h-16.2zM1193.8 868.7l8.1 14.4h-16.2zM1199.2 844.7l8.1 14.4h-16.2zM1201.8 817.9l8.1 14.4h-16.2zM1200.9 790.0l8.1 14.4h-16.2zM1206.0 763.8l8.1 14.4h-16.2zM1207.0 742.3l8.1 14.4h-16.2zM1213.4 714.2l8.1 14.4h-16.2zM1216.6 689.2l8.1 14.4h-16.2zM1218.1 664.1l8.1 14.4h-16.2zM1219.6 640.6l8.1 14.4h-16.2zM1229.4 613.5l8.1 14.4h-16.2zM1236.3 588.6l8.1 14.4h-16.2zM1249.1 583.3l8.1 14.4h-16.2zM1259.3 609.6l8.1 14.4h-16.2zM1263.7 635.6l8.1 14.4h-16.2zM1268.5 656.2l8.1 14.4h-16.2zM1270.0 683.8l8.1 14.4h-16.2zM1276.0 706.6l8.1 14.4h-16.2zM1279.7 738.3l8.1 14.4h-16.2zM1281.1 757.6l8.1 14.4h-16.2zM1289.7 786.6l8.1 14.4h-16.2zM1290.2 814.1l8.1 14.4h-16.2zM1297.9 838.2l8.1 14.4h-16.2zM1301.7 865.6l8.1 14.4h-16.2zM1304.8 886.8l8.1 14.4h-16.2zM1307.7 913.0l8.1 14.4h-16.2zM1314.1 938.9l8.1 14.4h-16.2zM1330.2 958.7l8.1 14.4h-16.2zM1342.7 935.0l8.1 14.4h-16.2zM1347.6 911.9l8.1 14.4h-16.2zM1353.4 889.9l8.1 14.4h-16.2zM1361.7 860.8l8.1 14.4h-16.2zM1363.1 836.1l8.1 14.4h-16.2zM1367.3 807.3l8.1 14.4h-16.2zM1372.8 782.1l8.1 14.4h-16.2zM1377.1 763.6l8.1 14.4h-16.2zM1380.1 734.9l8.1 14.4h-16.2zM1388.1 712.2l8.1 14.4h-16.2zM1392.6 684.8l8.1 14.4h-16.2zM1402.1 663.0l8.1 14.4h-16.2zM1421.2 669.3l8.1 14.4h-16.2zM1430.6 695.5l8.1 14.4h-16.2zM1440.9 718.4l8.1 14.4h-16.2zM1443.8 746.1l8.1 14.4h-16.2zM1452.5 765.5l8.1 14.4h-16.2zM1458.6 792.7l8.1 14.4h-16.2zM1460.9 817.6l8.1 14.4h-16.2zM1468.6 843.2l8.1 14.4h-16.2zM1474.5 871.2l8.1 14.4h-16.2zM1481.6 894.9l8.1 14.4h-16.2zM1496.4 918.5l8.1 14.4h-16.2zM1507.8 911.2l8.1 14.4h-16.2zM1519.6 888.0l8.1 14.4h-16.2zM1524.6 862.8l8.1 14.4h-16.2zM1528.9 833.7l8.1 14.4h-16.2zM1535.2 808.4l8.1 14.4h-16.2zM1538.5 786.3l8.1 14.4h-16.2zM1545.6 761.6l8.1 14.4h-16.2zM1549.4 736.7l8.1 14.4h-16.2zM1556.1 716.1l8.1 14.4h-16.2zM1564.8 684.3l8.1 14.4h-16.2zM1577.9 666.9l8.1 14.4h-16.2zM1595.9 677.4l8.1 14.4h-16.2zM1604.2 704.8l8.1 14.4h-16.2zM1609.0 724.9l8.1 14.4h-16.2zM1614.5 753.7l8.1 14.4h-16.2zM1618.0 776.9l8.1 14.4h-16.2zM1621.9 802.0l8.1 14.4h-16.2zM1628.2 828.9l8.1 14.4h-16.2zM1629.3 854.5l8.1 14.4h-16.2zM1636.3 879.9l8.1 14.4h-16.2zM1643.6 904.1l8.1 14.4h-16.2zM1650.8 931.3l8.1 14.4h-16.2zM1656.2 953.8l8.1 14.4h-16.2zM1675.5 956.0l8.1 14.4h-16.2zM1680.3 934.6l8.1 14.4h-16.2zM1688.8 902.8l8.1 14.4h-16.2zM1689.8 880.3l8.1 14.4h-16.2zM1696.6 858.4l8.1 14.4h-16.2zM1697.7 834.7l8.1 14.4h-16.2zM1701.2 802.2l8.1 14.4h-16.2zM1704.6 780.4l8.1 14.4h-16.2zM1711.1 757.9l8.1 14.4h-16.2zM1710.1 732.6l8.1 14.4h-16.2zM1716.1 703.0l8.1 14.4h-16.2zM1717.8 681.6l8.1 14.4h-16.2zM1721.8 650.4l8.1 14.4h-16.2zM1724.0 626.6l8.1 14.4h-16.2zM1731.0 604.3l8.1 14.4h-16.2zM1737.9 577.1l8.1 14.4h-16.2zM1753.5 571.0l8.1 14.4h-16.2zM1757.8 597.7l8.1 14.4h-16.2zM1766.5 619.1l8.1 14.4h-16.2zM1768.9 649.9l8.1 14.4h-16.2zM1773.6 670.5l8.1 14.4h-16.2zM1773.8 696.6l8.1 14.4h-16.2zM1781.2 727.2l8.1 14.4h-16.2zM1782.8 750.2l8.1 14.4h-16.2zM1782.9 774.5l8.1 14.4h-16.2zM1784.3 796.7l8.1 14.4h-16.2zM1790.7 824.8l8.1 14.4h-16.2zM1790.8 851.1l8.1 14.4h-16.2zM1792.2 873.4l8.1 14.4h-16.2zM1794.0 905.5l8.1 14.4h-16.2zM1800.3 929.2l8.1 14.4h-16.2zM1798.3 954.9l8.1 14.4h-16.2zM1804.6 980.3l8.1 14.4h-16.2zM1804.2 1004.1l8.1 14.4h-16.2zM1806.9 1031.1l8.1 14.4h-16.2zM1809.9 1057.4l8.1 14.4h-16.2zM1814.9 1080.6l8.1 14.4h-16.2zM1817.0 1104.7l8.1 14.4h-16.2zM1825.0 1129.3l8.1 14.4h-16.2zM1838.5 1109.4l8.1 14.4h-16.2zM1839.4 1080.8l8.1 14.4h-16.2zM1846.7 1054.6l8.1 14.4h-16.2zM1845.7 1031.0l8.1 14.4h-16.2zM1851.8 1002.9l8.1 14.4h-16.2zM1854.0 977.8l8.1 14.4h-16.2zM1855.9 952.2l8.1 14.4h-16.2zM1857.6 928.0l8.1 14.4h-16.2zM1858.4 902.7l8.1 14.4h-16.2zM1861.6 877.0l8.1 14.4h-16.2zM1864.5 850.6l8.1 14.4h-16.2zM1863.6 826.7l8.1 14.4h-16.2zM1868.9 796.3l8.1 14.4h-16.2zM1868.3 770.9l8.1 14.4h-16.2zM1868.2 751.0l8.1 14.4h-16.2zM1872.0 721.2l8.1 14.4h-16.2zM1871.5 697.3l8.1 14.4h-16.2zM1875.5 670.6l8.1 14.4h-16.2zM1874.9 645.2l8.1 14.4h-16.2zM1877.0 619.2l8.1 14.4h-16.2zM1882.2 591.8l8.1 14.4h-16.2zM1881.6 570.5l8.1 14.4h-16.2zM1885.3 541.8l8.1 14.4h-16.2zM1885.3 514.3l8.1 14.4h-16.2zM1889.6 492.3l8.1 14.4h-16.2zM1891.5 468.8l8.1 14.4h-16.2zM1896.2 441.1l8.1 14.4h-16.2zM1900.1 415.7l8.1 14.4h-16.2zM1908.8 400.1l8.1 14.4h-16.2zM1914.8 426.4l8.1 14.4h-16.2zM1919.4 446.9l8.1 14.4h-16.2zM1923.5 475.9l8.1 14.4h-16.2zM1926.4 500.6l8.1 14.4h-16.2zM1929.7 525.8l8.1 14.4h-16.2zM1933.4 554.5l8.1 14.4h-16.2zM1936.7 581.2l8.1 14.4h-16.2zM1937.2 603.3l8.1 14.4h-16.2zM1938.0 628.3l8.1 14.4h-16.2zM1942.4 652.0l8.1 14.4h-16.2zM1943.8 679.8l8.1 14.4h-16.2zM1942.7 705.6l8.1 14.4h-16.2zM1946.4 731.0l8.1 14.4h-16.2zM1947.3 756.4l8.1 14.4h-16.2zM1951.6 783.3l8.1 14.4h-16.2zM1951.8 809.7l8.1 14.4h-16.2zM1955.5 834.0l8.1 14.4h-16.2zM1955.7 855.6l8.1 14.4h-16.2zM1960.2 883.1l8.1 14.4h-16.2zM1959.7 911.1l8.1 14.4h-16.2zM1963.0 937.4l8.1 14.4h-16.2zM1963.7 964.8l8.1 14.4h-16.2zM1967.2 988.6l8.1 14.4h-16.2zM1971.3 1014.1l8.1 14.4h-16.2zM1972.4 1036.9l8.1 14.4h-16.2zM1974.1 1063.6l8.1 14.4h-16.2zM1980.9 1089.5l8.1 14.4h-16.2zM1989.8 1111.6l8.1 14.4h-16.2zM2001.5 1091.1l8.1 14.4h-16.2zM2004.0 1064.0l8.1 14.4h-16.2zM2006.9 1039.3l8.1 14.4h-16.2zM2011.2 1010.2l8.1 14.4h-16.2zM2017.2 985.6l8.1 14.4h-16.2zM2016.8 961.0l8.1 14.4h-16.2zM2019.5 934.7l8.1 14.4h-16.2zM2022.7 914.8l8.1 14.4h-16.2zM2024.3 884.0l8.1 14.4h-16.2zM2031.3 861.7l8.1 14.4h-16.2zM2030.1 833.8l8.1 14.4h-16.2zM2036.4 807.8l8.1 14.4h-16.2zM2034.7 782.4l8.1 14.4h-16.2zM2037.2 758.9l8.1 14.4h-16.2zM2042.3 729.7l8.1 14.4h-16.2zM2045.2 705.5l8.1 14.4h-16.2zM2047.7 680.3l8.1 14.4h-16.2zM2050.9 653.7l8.1 14.4h-16.2zM2059.0 628.6l8.1 14.4h-16.2zM2063.7 603.6l8.1 14.4h-16.2zM2071.3 578.9l8.1 14.4h-16.2zM2086.3 592.3l8.1 14.4h-16.2zM2093.2 616.3l8.1 14.4h-16.2zM2098.3 644.9l8.1 14.4h-16.2zM2099.2 664.1l8.1 14.4h-16.2zM2102.7 692.5l8.1 14.4h-16.2zM2109.1 716.0l8.1 14.4h-16.2zM2111.5 741.2l8.1 14.4h-16.2zM2114.4 769.8l8.1 14.4h-16.2zM2118.9 794.3l8.1 14.4h-16.2zM2122.8 819.7l8.1 14.4h-16.2zM2129.8 844.9l8.1 14.4h-16.2zM2131.8 872.6l8.1 14.4h-16.2zM2137.2 893.2l8.1 14.4h-16.2zM2143.5 922.3l8.1 14.4h-16.2zM2151.6 943.1l8.1 14.4h-16.2zM2165.5 957.9l8.1 14.4h-16.2zM2179.2 928.4l8.1 14.4h-16.2zM2184.0 908.7l8.1 14.4h-16.2zM2189.5 881.8l8.1 14.4h-16.2zM2197.5 855.4l8.1 14.4h-16.2zM2199.5 830.5l8.1 14.4h-16.2zM2202.3 804.4l8.1 14.4h-16.2zM2207.5 782.4l8.1 14.4h-16.2zM2215.2 753.4l8.1 14.4h-16.2zM2216.5 727.9l8.1 14.4h-16.2zM2222.8 702.3l8.1 14.4h-16.2zM2227.6 679.7l8.1 14.4h-16.2zM2239.7 653.8l8.1 14.4h-16.2zM2255.7 668.5l8.1 14.4h-16.2zM2266.8 693.5l8.1 14.4h-16.2zM2271.3 719.4l8.1 14.4h-16.2zM2276.8 747.0l8.1 14.4h-16.2zM2282.7 768.3l8.1 14.4h-16.2zM2286.9 792.5l8.1 14.4h-16.2zM2296.1 815.4l8.1 14.4h-16.2zM2299.5 841.9l8.1 14.4h-16.2zM2303.7 867.9l8.1 14.4h-16.2zM2311.6 894.1l8.1 14.4h-16.2z" fill="#0000ff"/>
</g>
<g font-size="72" fill="#000">
<text x="233.0" y="1452.2" text-anchor="middle">0.0</text>
<text x="649.3" y="1452.2" text-anchor="middle">0.5</text>
<text x="1065.6" y="1452.2" text-anchor="middle">1.0</text>
<text x="1481.9" y="1452.2" text-anchor="middle">1.5</text>
<text x="1898.2" y="1452.2" text-anchor="middle">2.0</text>
<text x="2314.5" y="1452.2" text-anchor="middle">2.5</text>
<text y="1388.2"><tspan x="124.6" textLength="46.8" lengthAdjust="spacingAndGlyphs">−</tspan><tspan x="169">6</tspan></text>
<text y="1199.6"><tspan x="124.6" textLength="46.8" lengthAdjust="spacingAndGlyphs">−</tspan><tspan x="169">4</tspan></text>
<text y="1010.9"><tspan x="124.6" textLength="46.8" lengthAdjust="spacingAndGlyphs">−</tspan><tspan x="169">2</tspan></text>
<text x="205" y="822.3" text-anchor="end">0</text>
<text x="205" y="633.6" text-anchor="end">2</text>
<text x="205" y="445.0" text-anchor="end">4</text>
<text x="205" y="256.3" text-anchor="end">6</text>
<text x="205" y="67.7" text-anchor="end">8</text>
</g>
<text x="1229.6" y="1542.4" font-size="80" fill="#000"><tspan font-style="italic">t</tspan> [s]</text>
<text transform="translate(81.0 1033) rotate(-90)" font-size="80" fill="#000" style="stroke-width:0.6px">Sound pressure [Pa]</text>
<line x1="1308.4" y1="100.8" x2="1462.8" y2="100.8" stroke="#464646" stroke-width="4.6"/>
<rect x="1370.8" y="168.1" width="26.2" height="28.2" fill="none" stroke="#ff0000" stroke-width="2.2"/>
<path d="M1368.6 250l33.6 34.2M1368.6 284.2l33.6 -34.2" fill="none" stroke="#000" stroke-width="2"/>
<path d="M1385.2 334.9l13.2 22.6h-26.4z" fill="#0000ff"/>
<g font-size="68" fill="#000">
<text x="1476" y="124.4">Analytical</text>
<text x="1476" y="206.6" letter-spacing="0.25">Najafi-Yazdi et al.(2011)</text>
<text x="1476" y="289.4">MSFW-H</text>
<text x="1476" y="373.3">Fast MSFW-H</text>
</g>
</svg>
</body>
</html>
